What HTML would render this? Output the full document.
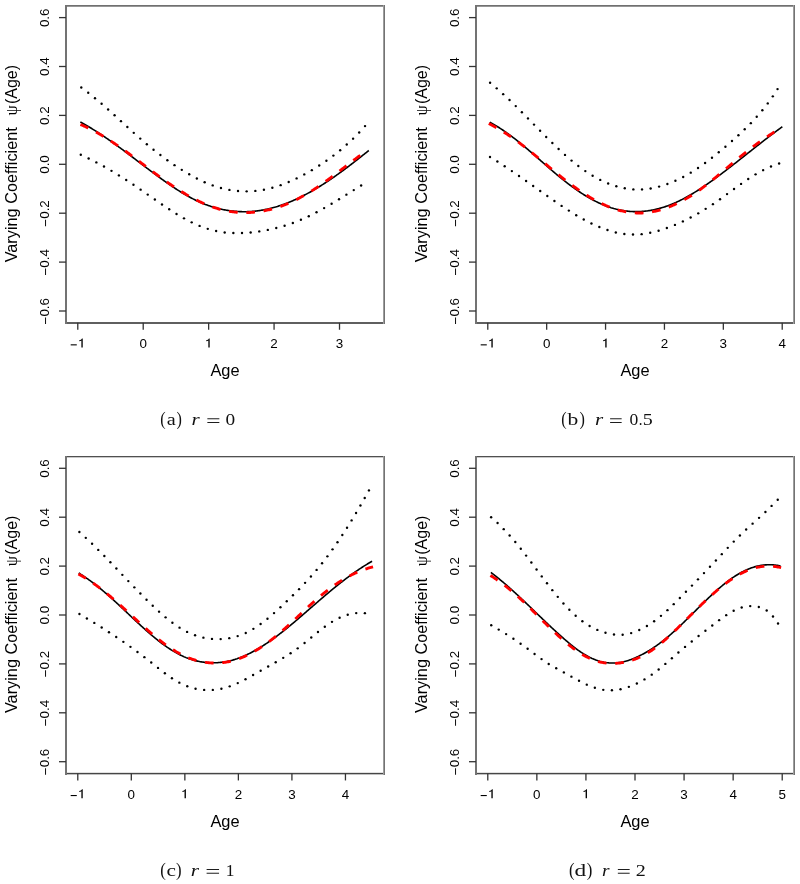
<!DOCTYPE html>
<html><head><meta charset="utf-8"><title>Varying coefficient plots</title><style>
html,body{margin:0;padding:0;background:#fff;width:800px;height:884px;overflow:hidden;}
svg{display:block;will-change:transform;}
</style></head><body>
<svg width="800" height="884" viewBox="0 0 800 884" font-family="'Liberation Sans', sans-serif">
<rect width="800" height="884" fill="#fff"/>
<rect x="65" y="5" width="320" height="1" fill="rgb(112,112,112)"/>
<rect x="65" y="6" width="320" height="1" fill="rgb(150,150,150)"/>
<rect x="65" y="322" width="320" height="1" fill="rgb(95,95,95)"/>
<rect x="65" y="323" width="320" height="1" fill="rgb(95,95,95)"/>
<rect x="65" y="5" width="1" height="319" fill="rgb(115,115,115)"/>
<rect x="66" y="5" width="1" height="319" fill="rgb(115,115,115)"/>
<rect x="383" y="5" width="1" height="319" fill="rgb(157,157,157)"/>
<rect x="384" y="5" width="1" height="319" fill="rgb(115,115,115)"/>
<line x1="59" y1="311.00" x2="66" y2="311.00" stroke="#333" stroke-width="1.3"/>
<text x="48.60" y="311.20" transform="rotate(-90 48.60 311.20)" text-anchor="middle" font-size="13.4" font-family="'Liberation Sans', sans-serif"><tspan dy="1.3">−</tspan><tspan dy="-1.3">0.6</tspan></text>
<line x1="59" y1="262.10" x2="66" y2="262.10" stroke="#333" stroke-width="1.3"/>
<text x="48.60" y="262.30" transform="rotate(-90 48.60 262.30)" text-anchor="middle" font-size="13.4" font-family="'Liberation Sans', sans-serif"><tspan dy="1.3">−</tspan><tspan dy="-1.3">0.4</tspan></text>
<line x1="59" y1="213.20" x2="66" y2="213.20" stroke="#333" stroke-width="1.3"/>
<text x="48.60" y="213.40" transform="rotate(-90 48.60 213.40)" text-anchor="middle" font-size="13.4" font-family="'Liberation Sans', sans-serif"><tspan dy="1.3">−</tspan><tspan dy="-1.3">0.2</tspan></text>
<line x1="59" y1="164.30" x2="66" y2="164.30" stroke="#333" stroke-width="1.3"/>
<text x="48.60" y="164.50" transform="rotate(-90 48.60 164.50)" text-anchor="middle" font-size="13.4" font-family="'Liberation Sans', sans-serif">0.0</text>
<line x1="59" y1="115.40" x2="66" y2="115.40" stroke="#333" stroke-width="1.3"/>
<text x="48.60" y="115.60" transform="rotate(-90 48.60 115.60)" text-anchor="middle" font-size="13.4" font-family="'Liberation Sans', sans-serif">0.2</text>
<line x1="59" y1="66.50" x2="66" y2="66.50" stroke="#333" stroke-width="1.3"/>
<text x="48.60" y="66.70" transform="rotate(-90 48.60 66.70)" text-anchor="middle" font-size="13.4" font-family="'Liberation Sans', sans-serif">0.4</text>
<line x1="59" y1="17.60" x2="66" y2="17.60" stroke="#333" stroke-width="1.3"/>
<text x="48.60" y="17.80" transform="rotate(-90 48.60 17.80)" text-anchor="middle" font-size="13.4" font-family="'Liberation Sans', sans-serif">0.6</text>
<line x1="77.78" y1="322.75" x2="77.78" y2="329.75" stroke="#333" stroke-width="1.3"/>
<path d="M81.38,347.60 L82.73,347.60 L82.73,338.50 L81.98,338.50 C81.48,339.60 80.48,340.00 79.28,340.20 L79.28,341.25 C80.08,341.15 80.78,340.90 81.38,340.55 Z" fill="#000"/>
<rect x="70.68" y="344.30" width="6.1" height="1.1" fill="#000"/>
<line x1="143.21" y1="322.75" x2="143.21" y2="329.75" stroke="#333" stroke-width="1.3"/>
<text x="143.21" y="348.30" text-anchor="middle" font-size="13.4" font-family="'Liberation Sans', sans-serif">0</text>
<line x1="208.64" y1="322.75" x2="208.64" y2="329.75" stroke="#333" stroke-width="1.3"/>
<path d="M208.34,347.60 L209.69,347.60 L209.69,338.50 L208.94,338.50 C208.44,339.60 207.44,340.00 206.24,340.20 L206.24,341.25 C207.04,341.15 207.74,340.90 208.34,340.55 Z" fill="#000"/>
<line x1="274.07" y1="322.75" x2="274.07" y2="329.75" stroke="#333" stroke-width="1.3"/>
<text x="274.07" y="348.30" text-anchor="middle" font-size="13.4" font-family="'Liberation Sans', sans-serif">2</text>
<line x1="339.51" y1="322.75" x2="339.51" y2="329.75" stroke="#333" stroke-width="1.3"/>
<text x="339.51" y="348.30" text-anchor="middle" font-size="13.4" font-family="'Liberation Sans', sans-serif">3</text>
<text x="225.00" y="375.80" text-anchor="middle" font-size="16.4" font-family="'Liberation Sans', sans-serif">Age</text>
<text x="17.20" y="262.32" transform="rotate(-90 17.20 262.32)" font-size="16.3" font-family="'Liberation Sans', sans-serif">Varying Coefficient</text>
<text x="17.20" y="115.46" transform="rotate(-90 17.20 115.46)" font-size="16.2" font-family="'Liberation Serif', serif">ψ</text>
<text x="17.20" y="104.04" transform="rotate(-90 17.20 104.04)" font-size="16.0" font-family="'Liberation Sans', sans-serif">(Age)</text>
<circle cx="81.29" cy="87.57" r="1.2"/>
<circle cx="88.22" cy="92.77" r="1.2"/>
<circle cx="94.99" cy="98.19" r="1.2"/>
<circle cx="101.62" cy="103.78" r="1.2"/>
<circle cx="108.14" cy="109.50" r="1.2"/>
<circle cx="114.57" cy="115.30" r="1.2"/>
<circle cx="120.97" cy="121.16" r="1.2"/>
<circle cx="127.36" cy="127.02" r="1.2"/>
<circle cx="133.77" cy="132.85" r="1.2"/>
<circle cx="140.25" cy="138.61" r="1.2"/>
<circle cx="146.83" cy="144.26" r="1.2"/>
<circle cx="153.54" cy="149.75" r="1.2"/>
<circle cx="160.39" cy="155.07" r="1.2"/>
<circle cx="167.37" cy="160.20" r="1.2"/>
<circle cx="174.51" cy="165.13" r="1.2"/>
<circle cx="181.79" cy="169.83" r="1.2"/>
<circle cx="189.22" cy="174.29" r="1.2"/>
<circle cx="196.84" cy="178.44" r="1.2"/>
<circle cx="204.66" cy="182.18" r="1.2"/>
<circle cx="212.70" cy="185.41" r="1.2"/>
<circle cx="220.96" cy="188.03" r="1.2"/>
<circle cx="229.42" cy="189.91" r="1.2"/>
<circle cx="238.02" cy="191.02" r="1.2"/>
<circle cx="246.68" cy="191.36" r="1.2"/>
<circle cx="255.34" cy="190.92" r="1.2"/>
<circle cx="263.92" cy="189.71" r="1.2"/>
<circle cx="272.36" cy="187.76" r="1.2"/>
<circle cx="280.63" cy="185.15" r="1.2"/>
<circle cx="288.70" cy="181.99" r="1.2"/>
<circle cx="296.59" cy="178.39" r="1.2"/>
<circle cx="304.29" cy="174.41" r="1.2"/>
<circle cx="311.83" cy="170.14" r="1.2"/>
<circle cx="319.20" cy="165.57" r="1.2"/>
<circle cx="326.39" cy="160.73" r="1.2"/>
<circle cx="333.39" cy="155.61" r="1.2"/>
<circle cx="340.18" cy="150.21" r="1.2"/>
<circle cx="346.75" cy="144.56" r="1.2"/>
<circle cx="353.09" cy="138.64" r="1.2"/>
<circle cx="359.19" cy="132.48" r="1.2"/>
<circle cx="365.03" cy="126.08" r="1.2"/>
<circle cx="80.80" cy="154.75" r="1.2"/>
<circle cx="88.65" cy="158.45" r="1.2"/>
<circle cx="96.37" cy="162.39" r="1.2"/>
<circle cx="103.99" cy="166.53" r="1.2"/>
<circle cx="111.49" cy="170.87" r="1.2"/>
<circle cx="118.90" cy="175.38" r="1.2"/>
<circle cx="126.21" cy="180.03" r="1.2"/>
<circle cx="133.45" cy="184.80" r="1.2"/>
<circle cx="140.63" cy="189.67" r="1.2"/>
<circle cx="147.76" cy="194.60" r="1.2"/>
<circle cx="154.87" cy="199.56" r="1.2"/>
<circle cx="162.00" cy="204.49" r="1.2"/>
<circle cx="169.20" cy="209.32" r="1.2"/>
<circle cx="176.52" cy="213.97" r="1.2"/>
<circle cx="184.00" cy="218.35" r="1.2"/>
<circle cx="191.69" cy="222.36" r="1.2"/>
<circle cx="199.60" cy="225.89" r="1.2"/>
<circle cx="207.76" cy="228.83" r="1.2"/>
<circle cx="216.14" cy="231.03" r="1.2"/>
<circle cx="224.69" cy="232.43" r="1.2"/>
<circle cx="233.34" cy="233.06" r="1.2"/>
<circle cx="242.01" cy="233.03" r="1.2"/>
<circle cx="250.65" cy="232.44" r="1.2"/>
<circle cx="259.26" cy="231.38" r="1.2"/>
<circle cx="267.80" cy="229.90" r="1.2"/>
<circle cx="276.26" cy="228.02" r="1.2"/>
<circle cx="284.62" cy="225.71" r="1.2"/>
<circle cx="292.84" cy="222.97" r="1.2"/>
<circle cx="300.90" cy="219.77" r="1.2"/>
<circle cx="308.79" cy="216.18" r="1.2"/>
<circle cx="316.53" cy="212.27" r="1.2"/>
<circle cx="324.13" cy="208.09" r="1.2"/>
<circle cx="331.61" cy="203.73" r="1.2"/>
<circle cx="339.03" cy="199.23" r="1.2"/>
<circle cx="346.39" cy="194.66" r="1.2"/>
<circle cx="353.75" cy="190.08" r="1.2"/>
<circle cx="361.14" cy="185.54" r="1.2"/>
<path d="M80.36,121.99 L81.25,122.47 L82.13,122.96 L83.01,123.45 L83.89,123.95 L84.77,124.45 L85.64,124.95 L86.51,125.45 L87.38,125.96 L88.25,126.47 L89.11,126.98 L89.97,127.50 L90.83,128.01 L91.68,128.54 L92.54,129.06 L93.39,129.59 L94.24,130.12 L95.09,130.65 L95.93,131.18 L96.78,131.72 L97.62,132.26 L98.46,132.80 L99.30,133.35 L100.13,133.89 L100.97,134.44 L101.80,135.00 L102.63,135.55 L103.46,136.11 L104.28,136.66 L105.11,137.22 L105.93,137.79 L106.76,138.35 L107.58,138.92 L108.40,139.48 L109.21,140.05 L110.03,140.63 L110.84,141.20 L111.66,141.77 L112.47,142.35 L113.28,142.93 L114.09,143.51 L114.90,144.09 L115.71,144.67 L116.52,145.26 L117.32,145.84 L118.13,146.43 L118.93,147.02 L119.73,147.61 L120.53,148.20 L121.34,148.79 L122.14,149.38 L122.94,149.97 L123.74,150.57 L124.53,151.17 L125.33,151.76 L126.13,152.36 L126.93,152.96 L127.72,153.56 L128.52,154.16 L129.31,154.76 L130.11,155.36 L130.90,155.96 L131.70,156.56 L132.49,157.16 L133.28,157.76 L134.08,158.37 L134.87,158.97 L135.67,159.57 L136.46,160.18 L137.25,160.78 L138.05,161.39 L138.84,161.99 L139.63,162.59 L140.43,163.20 L141.22,163.80 L142.02,164.41 L142.81,165.01 L143.61,165.61 L144.40,166.22 L145.20,166.82 L145.99,167.42 L146.79,168.02 L147.59,168.63 L148.38,169.23 L149.18,169.83 L149.98,170.43 L150.78,171.03 L151.58,171.63 L152.38,172.23 L153.19,172.82 L153.99,173.42 L154.79,174.01 L155.60,174.61 L156.40,175.20 L157.21,175.80 L158.02,176.39 L158.83,176.98 L159.64,177.57 L160.45,178.16 L161.26,178.74 L162.07,179.33 L162.89,179.91 L163.71,180.50 L164.52,181.08 L165.34,181.66 L166.16,182.24 L166.99,182.81 L167.81,183.39 L168.63,183.96 L169.46,184.53 L170.29,185.10 L171.12,185.67 L171.95,186.23 L172.79,186.79 L173.62,187.35 L174.46,187.91 L175.30,188.46 L176.14,189.01 L176.99,189.56 L177.83,190.10 L178.68,190.64 L179.53,191.17 L180.38,191.70 L181.24,192.23 L182.09,192.75 L182.95,193.27 L183.82,193.79 L184.68,194.30 L185.55,194.80 L186.41,195.30 L187.29,195.80 L188.16,196.29 L189.04,196.77 L189.92,197.25 L190.80,197.72 L191.68,198.19 L192.57,198.65 L193.46,199.11 L194.36,199.56 L195.25,200.00 L196.15,200.43 L197.05,200.86 L197.96,201.29 L198.87,201.70 L199.78,202.11 L200.70,202.51 L201.61,202.91 L202.54,203.29 L203.46,203.67 L204.39,204.04 L205.32,204.41 L206.26,204.76 L207.19,205.11 L208.14,205.45 L209.08,205.78 L210.03,206.10 L210.98,206.41 L211.94,206.72 L212.90,207.01 L213.86,207.30 L214.83,207.58 L215.79,207.85 L216.76,208.11 L217.74,208.36 L218.71,208.60 L219.69,208.83 L220.67,209.06 L221.65,209.28 L222.63,209.48 L223.62,209.68 L224.60,209.87 L225.59,210.05 L226.58,210.22 L227.57,210.38 L228.56,210.54 L229.56,210.68 L230.55,210.81 L231.54,210.94 L232.54,211.05 L233.53,211.16 L234.53,211.26 L235.53,211.34 L236.52,211.42 L237.52,211.49 L238.51,211.55 L239.51,211.60 L240.50,211.64 L241.50,211.67 L242.49,211.69 L243.48,211.70 L244.48,211.71 L245.47,211.70 L246.46,211.68 L247.45,211.65 L248.43,211.62 L249.42,211.57 L250.40,211.51 L251.39,211.45 L252.37,211.37 L253.35,211.29 L254.33,211.20 L255.31,211.09 L256.29,210.98 L257.26,210.86 L258.23,210.73 L259.21,210.60 L260.18,210.45 L261.15,210.29 L262.12,210.13 L263.08,209.96 L264.05,209.78 L265.01,209.59 L265.98,209.39 L266.94,209.19 L267.90,208.98 L268.86,208.76 L269.82,208.53 L270.77,208.29 L271.72,208.05 L272.68,207.80 L273.63,207.54 L274.58,207.27 L275.53,207.00 L276.47,206.71 L277.42,206.43 L278.36,206.13 L279.30,205.83 L280.25,205.52 L281.18,205.20 L282.12,204.88 L283.06,204.55 L283.99,204.21 L284.92,203.87 L285.86,203.52 L286.79,203.16 L287.71,202.80 L288.64,202.43 L289.56,202.06 L290.49,201.68 L291.41,201.29 L292.33,200.90 L293.25,200.50 L294.16,200.10 L295.08,199.69 L295.99,199.27 L296.90,198.85 L297.81,198.42 L298.72,197.99 L299.63,197.56 L300.53,197.11 L301.43,196.67 L302.33,196.21 L303.23,195.76 L304.13,195.30 L305.03,194.83 L305.92,194.36 L306.81,193.88 L307.70,193.40 L308.59,192.92 L309.48,192.43 L310.36,191.94 L311.25,191.44 L312.13,190.94 L313.01,190.43 L313.89,189.92 L314.76,189.41 L315.64,188.89 L316.51,188.37 L317.38,187.85 L318.25,187.32 L319.11,186.79 L319.98,186.25 L320.84,185.71 L321.70,185.17 L322.56,184.63 L323.42,184.08 L324.27,183.53 L325.12,182.98 L325.98,182.42 L326.82,181.86 L327.67,181.30 L328.52,180.74 L329.36,180.17 L330.20,179.60 L331.04,179.03 L331.88,178.46 L332.71,177.88 L333.54,177.30 L334.38,176.72 L335.20,176.14 L336.03,175.56 L336.86,174.97 L337.68,174.39 L338.50,173.80 L339.32,173.21 L340.13,172.62 L340.95,172.02 L341.76,171.43 L342.57,170.84 L343.38,170.24 L344.18,169.64 L344.99,169.05 L345.79,168.45 L346.59,167.85 L347.39,167.25 L348.18,166.65 L348.97,166.04 L349.76,165.44 L350.55,164.84 L351.34,164.24 L352.12,163.64 L352.91,163.03 L353.68,162.43 L354.46,161.83 L355.24,161.23 L356.01,160.62 L356.78,160.02 L357.55,159.42 L358.31,158.82 L359.08,158.22 L359.84,157.62 L360.60,157.02 L361.35,156.42 L362.11,155.82 L362.86,155.23 L363.61,154.63 L364.36,154.04 L365.10,153.44 L365.85,152.85 L366.59,152.26 L367.32,151.67 L368.06,151.08 L368.79,150.50" fill="none" stroke="#000" stroke-width="1.6"/>
<path d="M80.42,124.44 L81.37,124.86 L82.32,125.28 L83.26,125.70 L84.19,126.13 L85.12,126.57 L86.05,127.01 L86.97,127.45 L87.89,127.89 L88.80,128.35 L89.71,128.80 L90.62,129.26 L91.52,129.72 L92.41,130.19 L93.31,130.66 L94.20,131.13 L95.08,131.61 L95.96,132.09 L96.84,132.58 L97.71,133.07 L98.59,133.56 L99.45,134.06 L100.32,134.56 L101.18,135.06 L102.04,135.57 L102.89,136.08 L103.74,136.59 L104.59,137.10 L105.44,137.62 L106.28,138.14 L107.12,138.67 L107.96,139.20 L108.79,139.73 L109.63,140.26 L110.46,140.80 L111.28,141.34 L112.11,141.88 L112.93,142.42 L113.75,142.97 L114.57,143.52 L115.39,144.07 L116.20,144.63 L117.02,145.18 L117.83,145.74 L118.64,146.30 L119.44,146.86 L120.25,147.43 L121.06,148.00 L121.86,148.57 L122.66,149.14 L123.46,149.71 L124.26,150.29 L125.06,150.86 L125.86,151.44 L126.65,152.02 L127.45,152.60 L128.24,153.19 L129.04,153.77 L129.83,154.36 L130.62,154.94 L131.42,155.53 L132.21,156.12 L133.00,156.71 L133.79,157.31 L134.58,157.90 L135.37,158.49 L136.16,159.09 L136.95,159.69 L137.74,160.28 L138.53,160.88 L139.32,161.48 L140.11,162.08 L140.90,162.68 L141.69,163.28 L142.49,163.89 L143.28,164.49 L144.07,165.09 L144.86,165.69 L145.66,166.30 L146.45,166.90 L147.25,167.50 L148.05,168.11 L148.85,168.71 L149.64,169.32 L150.45,169.92 L151.25,170.53 L152.05,171.13 L152.86,171.73 L153.66,172.34 L154.47,172.94 L155.28,173.54 L156.09,174.15 L156.90,174.75 L157.72,175.35 L158.53,175.95 L159.35,176.55 L160.17,177.15 L160.99,177.75 L161.81,178.35 L162.64,178.94 L163.47,179.54 L164.30,180.13 L165.13,180.72 L165.96,181.31 L166.79,181.90 L167.63,182.48 L168.46,183.07 L169.30,183.65 L170.14,184.23 L170.99,184.80 L171.83,185.38 L172.68,185.95 L173.53,186.52 L174.38,187.08 L175.23,187.65 L176.08,188.21 L176.94,188.76 L177.79,189.31 L178.65,189.86 L179.51,190.41 L180.38,190.95 L181.24,191.49 L182.11,192.02 L182.97,192.55 L183.84,193.08 L184.72,193.60 L185.59,194.12 L186.46,194.63 L187.34,195.14 L188.22,195.64 L189.10,196.14 L189.98,196.63 L190.87,197.12 L191.75,197.60 L192.64,198.08 L193.53,198.55 L194.42,199.01 L195.32,199.47 L196.21,199.93 L197.11,200.38 L198.01,200.82 L198.91,201.25 L199.81,201.68 L200.72,202.11 L201.62,202.52 L202.53,202.93 L203.44,203.34 L204.35,203.73 L205.27,204.12 L206.18,204.50 L207.10,204.88 L208.02,205.24 L208.94,205.60 L209.86,205.96 L210.79,206.30 L211.72,206.64 L212.64,206.97 L213.58,207.29 L214.51,207.60 L215.44,207.90 L216.38,208.20 L217.32,208.48 L218.26,208.76 L219.20,209.03 L220.14,209.29 L221.09,209.54 L222.04,209.79 L222.99,210.02 L223.94,210.24 L224.89,210.46 L225.85,210.66 L226.80,210.86 L227.76,211.04 L228.72,211.22 L229.69,211.38 L230.65,211.54 L231.62,211.68 L232.59,211.81 L233.56,211.94 L234.53,212.05 L235.51,212.15 L236.48,212.24 L237.46,212.33 L238.44,212.40 L239.42,212.46 L240.40,212.51 L241.38,212.55 L242.37,212.58 L243.35,212.60 L244.34,212.61 L245.32,212.61 L246.31,212.60 L247.30,212.58 L248.29,212.55 L249.28,212.51 L250.27,212.46 L251.26,212.40 L252.25,212.33 L253.24,212.25 L254.23,212.16 L255.21,212.07 L256.20,211.96 L257.19,211.84 L258.18,211.72 L259.17,211.58 L260.16,211.44 L261.14,211.29 L262.13,211.12 L263.11,210.95 L264.10,210.77 L265.08,210.58 L266.06,210.38 L267.04,210.18 L268.02,209.96 L269.00,209.74 L269.97,209.50 L270.95,209.26 L271.92,209.01 L272.89,208.75 L273.86,208.48 L274.83,208.21 L275.79,207.92 L276.75,207.63 L277.71,207.33 L278.67,207.02 L279.62,206.70 L280.58,206.38 L281.53,206.04 L282.47,205.70 L283.42,205.35 L284.36,205.00 L285.29,204.63 L286.23,204.26 L287.16,203.88 L288.09,203.49 L289.01,203.09 L289.93,202.69 L290.85,202.28 L291.77,201.86 L292.68,201.44 L293.59,201.01 L294.50,200.57 L295.40,200.13 L296.31,199.68 L297.20,199.22 L298.10,198.76 L298.99,198.29 L299.88,197.82 L300.77,197.34 L301.65,196.85 L302.54,196.36 L303.41,195.87 L304.29,195.37 L305.16,194.86 L306.03,194.35 L306.90,193.84 L307.77,193.32 L308.63,192.80 L309.49,192.27 L310.35,191.74 L311.20,191.20 L312.06,190.66 L312.91,190.12 L313.75,189.57 L314.60,189.02 L315.44,188.47 L316.28,187.91 L317.12,187.35 L317.95,186.78 L318.79,186.22 L319.62,185.65 L320.45,185.08 L321.27,184.50 L322.10,183.93 L322.92,183.35 L323.74,182.77 L324.56,182.18 L325.38,181.60 L326.19,181.01 L327.01,180.42 L327.82,179.83 L328.63,179.23 L329.44,178.64 L330.24,178.04 L331.05,177.44 L331.85,176.85 L332.66,176.25 L333.46,175.64 L334.26,175.04 L335.06,174.44 L335.86,173.84 L336.65,173.23 L337.45,172.63 L338.25,172.02 L339.04,171.41 L339.83,170.81 L340.63,170.20 L341.42,169.59 L342.21,168.99 L343.00,168.38 L343.79,167.77 L344.58,167.17 L345.37,166.56 L346.16,165.96 L346.95,165.35 L347.74,164.75 L348.53,164.15 L349.32,163.54 L350.11,162.94 L350.89,162.34 L351.68,161.74 L352.47,161.15 L353.26,160.55 L354.05,159.96 L354.84,159.36 L355.63,158.77 L356.42,158.18 L357.21,157.59 L358.00,157.01 L358.79,156.43 L359.58,155.84 L360.38,155.27 L361.17,154.69 L361.96,154.11" fill="none" stroke="#f00" stroke-width="2.85" stroke-dasharray="8.67 8.67"/>
<text transform="translate(160.24,425.20) scale(0.850,1)" font-size="19.0" font-family="'Liberation Serif', serif" fill="#111">(</text>
<text transform="translate(166.84,425.20) scale(1.151,1)" font-size="17.6" font-family="'Liberation Serif', serif" fill="#111">a</text>
<text transform="translate(176.43,425.20) scale(0.850,1)" font-size="19.0" font-family="'Liberation Serif', serif" fill="#111">)</text>
<text transform="translate(191.40,425.20) scale(1.196,1)" font-size="17.6" font-family="'Liberation Serif', serif" fill="#111" font-style="italic">r</text>
<rect x="207.35" y="418.30" width="12.00" height="0.95" fill="#111"/>
<rect x="207.35" y="422.05" width="12.00" height="0.95" fill="#111"/>
<text transform="translate(225.51,425.20) scale(1.099,1)" font-size="17.6" font-family="'Liberation Serif', serif" fill="#111">0</text>
<rect x="475" y="5" width="320" height="1" fill="rgb(112,112,112)"/>
<rect x="475" y="6" width="320" height="1" fill="rgb(150,150,150)"/>
<rect x="475" y="322" width="320" height="1" fill="rgb(95,95,95)"/>
<rect x="475" y="323" width="320" height="1" fill="rgb(95,95,95)"/>
<rect x="475" y="5" width="1" height="319" fill="rgb(115,115,115)"/>
<rect x="476" y="5" width="1" height="319" fill="rgb(115,115,115)"/>
<rect x="793" y="5" width="1" height="319" fill="rgb(157,157,157)"/>
<rect x="794" y="5" width="1" height="319" fill="rgb(115,115,115)"/>
<line x1="469" y1="311.00" x2="476" y2="311.00" stroke="#333" stroke-width="1.3"/>
<text x="458.60" y="311.20" transform="rotate(-90 458.60 311.20)" text-anchor="middle" font-size="13.4" font-family="'Liberation Sans', sans-serif"><tspan dy="1.3">−</tspan><tspan dy="-1.3">0.6</tspan></text>
<line x1="469" y1="262.10" x2="476" y2="262.10" stroke="#333" stroke-width="1.3"/>
<text x="458.60" y="262.30" transform="rotate(-90 458.60 262.30)" text-anchor="middle" font-size="13.4" font-family="'Liberation Sans', sans-serif"><tspan dy="1.3">−</tspan><tspan dy="-1.3">0.4</tspan></text>
<line x1="469" y1="213.20" x2="476" y2="213.20" stroke="#333" stroke-width="1.3"/>
<text x="458.60" y="213.40" transform="rotate(-90 458.60 213.40)" text-anchor="middle" font-size="13.4" font-family="'Liberation Sans', sans-serif"><tspan dy="1.3">−</tspan><tspan dy="-1.3">0.2</tspan></text>
<line x1="469" y1="164.30" x2="476" y2="164.30" stroke="#333" stroke-width="1.3"/>
<text x="458.60" y="164.50" transform="rotate(-90 458.60 164.50)" text-anchor="middle" font-size="13.4" font-family="'Liberation Sans', sans-serif">0.0</text>
<line x1="469" y1="115.40" x2="476" y2="115.40" stroke="#333" stroke-width="1.3"/>
<text x="458.60" y="115.60" transform="rotate(-90 458.60 115.60)" text-anchor="middle" font-size="13.4" font-family="'Liberation Sans', sans-serif">0.2</text>
<line x1="469" y1="66.50" x2="476" y2="66.50" stroke="#333" stroke-width="1.3"/>
<text x="458.60" y="66.70" transform="rotate(-90 458.60 66.70)" text-anchor="middle" font-size="13.4" font-family="'Liberation Sans', sans-serif">0.4</text>
<line x1="469" y1="17.60" x2="476" y2="17.60" stroke="#333" stroke-width="1.3"/>
<text x="458.60" y="17.80" transform="rotate(-90 458.60 17.80)" text-anchor="middle" font-size="13.4" font-family="'Liberation Sans', sans-serif">0.6</text>
<line x1="487.78" y1="322.75" x2="487.78" y2="329.75" stroke="#333" stroke-width="1.3"/>
<path d="M491.38,347.60 L492.73,347.60 L492.73,338.50 L491.98,338.50 C491.48,339.60 490.48,340.00 489.28,340.20 L489.28,341.25 C490.08,341.15 490.78,340.90 491.38,340.55 Z" fill="#000"/>
<rect x="480.68" y="344.30" width="6.1" height="1.1" fill="#000"/>
<line x1="546.67" y1="322.75" x2="546.67" y2="329.75" stroke="#333" stroke-width="1.3"/>
<text x="546.67" y="348.30" text-anchor="middle" font-size="13.4" font-family="'Liberation Sans', sans-serif">0</text>
<line x1="605.56" y1="322.75" x2="605.56" y2="329.75" stroke="#333" stroke-width="1.3"/>
<path d="M605.26,347.60 L606.61,347.60 L606.61,338.50 L605.86,338.50 C605.36,339.60 604.36,340.00 603.16,340.20 L603.16,341.25 C603.96,341.15 604.66,340.90 605.26,340.55 Z" fill="#000"/>
<line x1="664.44" y1="322.75" x2="664.44" y2="329.75" stroke="#333" stroke-width="1.3"/>
<text x="664.44" y="348.30" text-anchor="middle" font-size="13.4" font-family="'Liberation Sans', sans-serif">2</text>
<line x1="723.33" y1="322.75" x2="723.33" y2="329.75" stroke="#333" stroke-width="1.3"/>
<text x="723.33" y="348.30" text-anchor="middle" font-size="13.4" font-family="'Liberation Sans', sans-serif">3</text>
<line x1="782.22" y1="322.75" x2="782.22" y2="329.75" stroke="#333" stroke-width="1.3"/>
<text x="782.22" y="348.30" text-anchor="middle" font-size="13.4" font-family="'Liberation Sans', sans-serif">4</text>
<text x="635.00" y="375.80" text-anchor="middle" font-size="16.4" font-family="'Liberation Sans', sans-serif">Age</text>
<text x="427.20" y="262.32" transform="rotate(-90 427.20 262.32)" font-size="16.3" font-family="'Liberation Sans', sans-serif">Varying Coefficient</text>
<text x="427.20" y="115.46" transform="rotate(-90 427.20 115.46)" font-size="16.2" font-family="'Liberation Serif', serif">ψ</text>
<text x="427.20" y="104.04" transform="rotate(-90 427.20 104.04)" font-size="16.0" font-family="'Liberation Sans', sans-serif">(Age)</text>
<circle cx="490.08" cy="82.78" r="1.2"/>
<circle cx="496.71" cy="88.37" r="1.2"/>
<circle cx="503.19" cy="94.13" r="1.2"/>
<circle cx="509.52" cy="100.05" r="1.2"/>
<circle cx="515.75" cy="106.08" r="1.2"/>
<circle cx="521.89" cy="112.20" r="1.2"/>
<circle cx="527.97" cy="118.38" r="1.2"/>
<circle cx="534.03" cy="124.58" r="1.2"/>
<circle cx="540.10" cy="130.78" r="1.2"/>
<circle cx="546.20" cy="136.94" r="1.2"/>
<circle cx="552.36" cy="143.03" r="1.2"/>
<circle cx="558.62" cy="149.03" r="1.2"/>
<circle cx="565.00" cy="154.90" r="1.2"/>
<circle cx="571.55" cy="160.59" r="1.2"/>
<circle cx="578.31" cy="166.01" r="1.2"/>
<circle cx="585.33" cy="171.10" r="1.2"/>
<circle cx="592.63" cy="175.77" r="1.2"/>
<circle cx="600.25" cy="179.91" r="1.2"/>
<circle cx="608.16" cy="183.46" r="1.2"/>
<circle cx="616.34" cy="186.30" r="1.2"/>
<circle cx="624.77" cy="188.32" r="1.2"/>
<circle cx="633.37" cy="189.40" r="1.2"/>
<circle cx="642.03" cy="189.42" r="1.2"/>
<circle cx="650.64" cy="188.45" r="1.2"/>
<circle cx="659.11" cy="186.60" r="1.2"/>
<circle cx="667.38" cy="184.00" r="1.2"/>
<circle cx="675.41" cy="180.75" r="1.2"/>
<circle cx="683.20" cy="176.94" r="1.2"/>
<circle cx="690.73" cy="172.65" r="1.2"/>
<circle cx="698.02" cy="167.95" r="1.2"/>
<circle cx="705.10" cy="162.94" r="1.2"/>
<circle cx="711.99" cy="157.69" r="1.2"/>
<circle cx="718.75" cy="152.26" r="1.2"/>
<circle cx="725.42" cy="146.72" r="1.2"/>
<circle cx="731.99" cy="141.06" r="1.2"/>
<circle cx="738.43" cy="135.26" r="1.2"/>
<circle cx="744.72" cy="129.29" r="1.2"/>
<circle cx="750.83" cy="123.14" r="1.2"/>
<circle cx="756.72" cy="116.78" r="1.2"/>
<circle cx="762.37" cy="110.21" r="1.2"/>
<circle cx="767.75" cy="103.40" r="1.2"/>
<circle cx="772.81" cy="96.37" r="1.2"/>
<circle cx="777.54" cy="89.10" r="1.2"/>
<circle cx="490.00" cy="157.03" r="1.2"/>
<circle cx="497.38" cy="161.57" r="1.2"/>
<circle cx="504.68" cy="166.26" r="1.2"/>
<circle cx="511.88" cy="171.08" r="1.2"/>
<circle cx="519.02" cy="176.00" r="1.2"/>
<circle cx="526.11" cy="180.99" r="1.2"/>
<circle cx="533.17" cy="186.02" r="1.2"/>
<circle cx="540.23" cy="191.05" r="1.2"/>
<circle cx="547.31" cy="196.06" r="1.2"/>
<circle cx="554.43" cy="201.01" r="1.2"/>
<circle cx="561.61" cy="205.88" r="1.2"/>
<circle cx="568.86" cy="210.62" r="1.2"/>
<circle cx="576.23" cy="215.18" r="1.2"/>
<circle cx="583.75" cy="219.50" r="1.2"/>
<circle cx="591.45" cy="223.49" r="1.2"/>
<circle cx="599.35" cy="227.05" r="1.2"/>
<circle cx="607.48" cy="230.07" r="1.2"/>
<circle cx="615.82" cy="232.43" r="1.2"/>
<circle cx="624.35" cy="233.97" r="1.2"/>
<circle cx="632.99" cy="234.56" r="1.2"/>
<circle cx="641.64" cy="234.13" r="1.2"/>
<circle cx="650.21" cy="232.78" r="1.2"/>
<circle cx="658.62" cy="230.71" r="1.2"/>
<circle cx="666.87" cy="228.04" r="1.2"/>
<circle cx="674.95" cy="224.90" r="1.2"/>
<circle cx="682.87" cy="221.38" r="1.2"/>
<circle cx="690.63" cy="217.51" r="1.2"/>
<circle cx="698.23" cy="213.33" r="1.2"/>
<circle cx="705.66" cy="208.87" r="1.2"/>
<circle cx="712.92" cy="204.14" r="1.2"/>
<circle cx="720.04" cy="199.18" r="1.2"/>
<circle cx="727.05" cy="194.08" r="1.2"/>
<circle cx="734.04" cy="188.95" r="1.2"/>
<circle cx="741.07" cy="183.89" r="1.2"/>
<circle cx="748.23" cy="178.99" r="1.2"/>
<circle cx="755.57" cy="174.37" r="1.2"/>
<circle cx="763.14" cy="170.16" r="1.2"/>
<circle cx="770.99" cy="166.49" r="1.2"/>
<circle cx="779.12" cy="163.47" r="1.2"/>
<path d="M489.78,122.13 L490.67,122.62 L491.55,123.11 L492.42,123.61 L493.29,124.11 L494.16,124.62 L495.02,125.13 L495.88,125.65 L496.74,126.18 L497.59,126.70 L498.44,127.24 L499.28,127.77 L500.12,128.32 L500.96,128.86 L501.79,129.41 L502.62,129.97 L503.45,130.53 L504.27,131.09 L505.09,131.66 L505.91,132.23 L506.73,132.80 L507.54,133.38 L508.35,133.96 L509.16,134.55 L509.96,135.14 L510.76,135.73 L511.56,136.33 L512.36,136.93 L513.15,137.53 L513.94,138.13 L514.73,138.74 L515.52,139.35 L516.30,139.97 L517.08,140.59 L517.86,141.21 L518.64,141.83 L519.42,142.45 L520.19,143.08 L520.97,143.71 L521.74,144.34 L522.51,144.98 L523.28,145.61 L524.04,146.25 L524.81,146.89 L525.57,147.53 L526.33,148.18 L527.09,148.82 L527.85,149.47 L528.61,150.12 L529.37,150.77 L530.13,151.42 L530.88,152.07 L531.64,152.72 L532.39,153.38 L533.15,154.03 L533.90,154.69 L534.65,155.35 L535.41,156.01 L536.16,156.66 L536.91,157.32 L537.66,157.98 L538.41,158.64 L539.16,159.30 L539.91,159.96 L540.66,160.62 L541.41,161.29 L542.17,161.95 L542.92,162.61 L543.67,163.27 L544.42,163.93 L545.17,164.59 L545.92,165.25 L546.68,165.90 L547.43,166.56 L548.18,167.22 L548.94,167.88 L549.70,168.53 L550.45,169.19 L551.21,169.84 L551.97,170.49 L552.73,171.15 L553.49,171.80 L554.25,172.44 L555.01,173.09 L555.78,173.74 L556.54,174.38 L557.31,175.02 L558.08,175.66 L558.85,176.30 L559.62,176.94 L560.40,177.57 L561.17,178.21 L561.95,178.84 L562.73,179.46 L563.51,180.09 L564.29,180.71 L565.08,181.33 L565.87,181.95 L566.66,182.57 L567.45,183.18 L568.25,183.79 L569.04,184.39 L569.84,185.00 L570.65,185.60 L571.45,186.19 L572.26,186.79 L573.07,187.38 L573.88,187.96 L574.70,188.55 L575.52,189.13 L576.34,189.70 L577.17,190.27 L578.00,190.84 L578.83,191.41 L579.67,191.97 L580.51,192.52 L581.35,193.07 L582.19,193.62 L583.04,194.16 L583.90,194.70 L584.75,195.23 L585.61,195.76 L586.48,196.28 L587.34,196.80 L588.21,197.31 L589.08,197.81 L589.96,198.31 L590.84,198.80 L591.72,199.29 L592.61,199.77 L593.49,200.24 L594.39,200.70 L595.28,201.16 L596.18,201.61 L597.08,202.05 L597.98,202.49 L598.89,202.92 L599.80,203.34 L600.71,203.75 L601.63,204.15 L602.55,204.54 L603.47,204.93 L604.39,205.30 L605.32,205.67 L606.25,206.03 L607.18,206.38 L608.12,206.71 L609.06,207.04 L610.00,207.36 L610.94,207.67 L611.89,207.96 L612.84,208.25 L613.79,208.53 L614.75,208.79 L615.70,209.05 L616.66,209.29 L617.63,209.52 L618.59,209.74 L619.56,209.95 L620.53,210.14 L621.50,210.32 L622.48,210.50 L623.45,210.65 L624.43,210.80 L625.41,210.94 L626.40,211.06 L627.38,211.17 L628.36,211.27 L629.35,211.35 L630.34,211.43 L631.33,211.49 L632.32,211.54 L633.31,211.58 L634.30,211.61 L635.29,211.63 L636.28,211.63 L637.27,211.63 L638.26,211.61 L639.25,211.58 L640.23,211.54 L641.22,211.49 L642.21,211.42 L643.20,211.35 L644.18,211.26 L645.16,211.16 L646.15,211.05 L647.13,210.93 L648.10,210.80 L649.08,210.66 L650.06,210.50 L651.03,210.34 L652.00,210.16 L652.96,209.97 L653.93,209.78 L654.89,209.57 L655.85,209.35 L656.81,209.12 L657.76,208.88 L658.72,208.64 L659.67,208.38 L660.62,208.11 L661.56,207.83 L662.51,207.54 L663.45,207.25 L664.39,206.94 L665.33,206.63 L666.26,206.31 L667.19,205.97 L668.12,205.63 L669.05,205.29 L669.98,204.93 L670.90,204.56 L671.82,204.19 L672.74,203.81 L673.66,203.42 L674.57,203.03 L675.48,202.62 L676.39,202.21 L677.30,201.79 L678.21,201.37 L679.11,200.94 L680.01,200.50 L680.91,200.05 L681.81,199.60 L682.70,199.14 L683.60,198.68 L684.49,198.21 L685.37,197.73 L686.26,197.25 L687.14,196.77 L688.03,196.27 L688.90,195.77 L689.78,195.27 L690.66,194.76 L691.53,194.25 L692.40,193.73 L693.27,193.21 L694.14,192.68 L695.00,192.15 L695.86,191.61 L696.72,191.08 L697.58,190.53 L698.44,189.98 L699.29,189.43 L700.14,188.88 L700.99,188.32 L701.84,187.76 L702.69,187.19 L703.53,186.63 L704.37,186.06 L705.21,185.48 L706.05,184.91 L706.88,184.33 L707.71,183.75 L708.55,183.17 L709.37,182.59 L710.20,182.00 L711.03,181.41 L711.85,180.82 L712.67,180.23 L713.49,179.64 L714.31,179.05 L715.12,178.45 L715.93,177.86 L716.74,177.26 L717.55,176.67 L718.36,176.07 L719.16,175.47 L719.97,174.87 L720.77,174.27 L721.57,173.67 L722.37,173.07 L723.16,172.47 L723.96,171.87 L724.75,171.27 L725.55,170.66 L726.34,170.06 L727.13,169.46 L727.92,168.85 L728.70,168.24 L729.49,167.64 L730.27,167.03 L731.06,166.42 L731.84,165.82 L732.62,165.21 L733.41,164.60 L734.19,163.99 L734.97,163.38 L735.75,162.77 L736.52,162.16 L737.30,161.55 L738.08,160.94 L738.86,160.33 L739.63,159.72 L740.41,159.10 L741.18,158.49 L741.96,157.88 L742.73,157.27 L743.51,156.65 L744.28,156.04 L745.06,155.43 L745.83,154.81 L746.61,154.20 L747.38,153.59 L748.16,152.97 L748.93,152.36 L749.71,151.75 L750.48,151.13 L751.26,150.52 L752.03,149.90 L752.81,149.29 L753.59,148.68 L754.37,148.06 L755.14,147.45 L755.92,146.84 L756.70,146.22 L757.48,145.61 L758.26,145.00 L759.05,144.38 L759.83,143.77 L760.61,143.16 L761.40,142.54 L762.18,141.93 L762.97,141.32 L763.76,140.71 L764.55,140.10 L765.34,139.49 L766.13,138.87 L766.92,138.26 L767.72,137.65 L768.51,137.04 L769.31,136.43 L770.11,135.83 L770.91,135.22 L771.71,134.61 L772.52,134.00 L773.33,133.39 L774.13,132.79 L774.94,132.18 L775.75,131.58 L776.57,130.97 L777.38,130.37 L778.20,129.76 L779.02,129.16 L779.85,128.56 L780.67,127.96 L781.50,127.35 L782.33,126.75" fill="none" stroke="#000" stroke-width="1.6"/>
<path d="M488.79,123.50 L489.72,123.98 L490.65,124.47 L491.57,124.96 L492.49,125.45 L493.40,125.95 L494.31,126.45 L495.21,126.96 L496.11,127.47 L497.00,127.98 L497.89,128.50 L498.77,129.02 L499.65,129.54 L500.52,130.06 L501.39,130.59 L502.25,131.13 L503.11,131.66 L503.96,132.20 L504.81,132.74 L505.66,133.29 L506.50,133.84 L507.34,134.39 L508.17,134.94 L509.00,135.50 L509.83,136.06 L510.65,136.62 L511.47,137.19 L512.29,137.76 L513.10,138.33 L513.91,138.90 L514.71,139.47 L515.52,140.05 L516.32,140.63 L517.12,141.21 L517.91,141.80 L518.70,142.39 L519.49,142.98 L520.28,143.57 L521.07,144.16 L521.85,144.76 L522.63,145.35 L523.41,145.95 L524.18,146.55 L524.96,147.16 L525.73,147.76 L526.50,148.37 L527.27,148.98 L528.04,149.59 L528.80,150.20 L529.57,150.81 L530.33,151.42 L531.09,152.04 L531.86,152.66 L532.62,153.28 L533.38,153.90 L534.13,154.52 L534.89,155.14 L535.65,155.76 L536.41,156.39 L537.16,157.01 L537.92,157.64 L538.68,158.27 L539.43,158.89 L540.19,159.52 L540.94,160.15 L541.70,160.78 L542.45,161.41 L543.21,162.05 L543.97,162.68 L544.73,163.31 L545.48,163.94 L546.24,164.58 L547.00,165.21 L547.76,165.85 L548.52,166.48 L549.29,167.12 L550.05,167.75 L550.81,168.39 L551.58,169.02 L552.35,169.66 L553.12,170.29 L553.89,170.93 L554.66,171.56 L555.43,172.19 L556.21,172.83 L556.99,173.46 L557.77,174.10 L558.55,174.73 L559.34,175.36 L560.12,176.00 L560.91,176.63 L561.70,177.26 L562.50,177.89 L563.30,178.52 L564.10,179.15 L564.90,179.78 L565.71,180.40 L566.51,181.03 L567.32,181.65 L568.14,182.27 L568.95,182.89 L569.77,183.51 L570.60,184.13 L571.42,184.74 L572.25,185.36 L573.07,185.97 L573.91,186.57 L574.74,187.18 L575.58,187.78 L576.42,188.37 L577.26,188.97 L578.10,189.56 L578.95,190.15 L579.80,190.73 L580.65,191.31 L581.50,191.88 L582.36,192.45 L583.22,193.02 L584.08,193.58 L584.94,194.14 L585.80,194.69 L586.67,195.24 L587.54,195.78 L588.41,196.32 L589.29,196.85 L590.16,197.38 L591.04,197.90 L591.92,198.41 L592.80,198.92 L593.69,199.42 L594.58,199.91 L595.46,200.40 L596.36,200.88 L597.25,201.36 L598.14,201.83 L599.04,202.29 L599.94,202.74 L600.84,203.18 L601.74,203.62 L602.65,204.05 L603.55,204.47 L604.46,204.89 L605.37,205.29 L606.29,205.69 L607.20,206.08 L608.12,206.46 L609.03,206.83 L609.95,207.19 L610.87,207.54 L611.80,207.88 L612.72,208.22 L613.65,208.54 L614.58,208.86 L615.51,209.16 L616.44,209.45 L617.37,209.74 L618.31,210.01 L619.24,210.27 L620.18,210.52 L621.12,210.76 L622.06,210.99 L623.01,211.21 L623.95,211.42 L624.90,211.61 L625.84,211.80 L626.79,211.97 L627.74,212.13 L628.69,212.27 L629.65,212.41 L630.60,212.53 L631.56,212.64 L632.51,212.74 L633.47,212.82 L634.43,212.89 L635.39,212.95 L636.36,212.99 L637.32,213.02 L638.29,213.04 L639.25,213.04 L640.22,213.03 L641.19,213.01 L642.16,212.97 L643.13,212.92 L644.10,212.85 L645.07,212.77 L646.04,212.67 L647.02,212.57 L647.99,212.45 L648.97,212.31 L649.94,212.17 L650.91,212.01 L651.89,211.84 L652.86,211.66 L653.83,211.46 L654.81,211.26 L655.78,211.04 L656.75,210.81 L657.72,210.57 L658.69,210.31 L659.66,210.05 L660.63,209.78 L661.59,209.49 L662.56,209.20 L663.52,208.89 L664.48,208.58 L665.44,208.25 L666.40,207.91 L667.35,207.57 L668.31,207.21 L669.26,206.85 L670.21,206.47 L671.15,206.09 L672.10,205.70 L673.04,205.30 L673.98,204.89 L674.91,204.47 L675.84,204.05 L676.77,203.62 L677.70,203.18 L678.62,202.73 L679.54,202.27 L680.45,201.81 L681.36,201.34 L682.27,200.86 L683.17,200.37 L684.07,199.88 L684.96,199.38 L685.85,198.88 L686.74,198.37 L687.62,197.85 L688.49,197.33 L689.36,196.80 L690.23,196.27 L691.09,195.73 L691.94,195.19 L692.79,194.64 L693.64,194.08 L694.48,193.52 L695.32,192.96 L696.15,192.39 L696.98,191.82 L697.80,191.24 L698.63,190.66 L699.44,190.08 L700.26,189.49 L701.07,188.89 L701.87,188.30 L702.68,187.70 L703.48,187.10 L704.27,186.49 L705.07,185.88 L705.86,185.27 L706.65,184.66 L707.44,184.04 L708.22,183.42 L709.00,182.80 L709.78,182.17 L710.56,181.55 L711.34,180.92 L712.11,180.29 L712.88,179.66 L713.65,179.03 L714.42,178.39 L715.19,177.76 L715.96,177.12 L716.73,176.49 L717.49,175.85 L718.26,175.21 L719.02,174.57 L719.78,173.93 L720.55,173.29 L721.31,172.65 L722.07,172.01 L722.83,171.37 L723.60,170.73 L724.36,170.09 L725.12,169.45 L725.88,168.81 L726.64,168.16 L727.40,167.52 L728.16,166.88 L728.92,166.24 L729.68,165.60 L730.44,164.96 L731.21,164.32 L731.97,163.68 L732.73,163.04 L733.49,162.41 L734.26,161.77 L735.02,161.13 L735.78,160.50 L736.55,159.86 L737.31,159.23 L738.08,158.59 L738.85,157.96 L739.62,157.33 L740.39,156.70 L741.16,156.07 L741.93,155.44 L742.70,154.82 L743.47,154.19 L744.25,153.57 L745.03,152.95 L745.80,152.33 L746.58,151.71 L747.36,151.09 L748.15,150.48 L748.93,149.86 L749.72,149.25 L750.50,148.64 L751.29,148.03 L752.08,147.43 L752.88,146.82 L753.67,146.22 L754.47,145.62 L755.27,145.02 L756.07,144.43 L756.87,143.84 L757.68,143.25 L758.49,142.66 L759.30,142.07 L760.11,141.49 L760.93,140.91 L761.74,140.33 L762.56,139.76 L763.39,139.19 L764.21,138.62 L765.04,138.05 L765.87,137.49 L766.71,136.93 L767.55,136.38 L768.39,135.82 L769.23,135.27 L770.08,134.73 L770.93,134.19 L771.78,133.65 L772.64,133.11 L773.50,132.58 L774.36,132.05 L775.23,131.52 L776.10,131.00" fill="none" stroke="#f00" stroke-width="2.85" stroke-dasharray="8.67 8.67"/>
<text transform="translate(561.24,425.20) scale(0.850,1)" font-size="19.0" font-family="'Liberation Serif', serif" fill="#111">(</text>
<text transform="translate(567.60,425.20) scale(1.224,1)" font-size="17.6" font-family="'Liberation Serif', serif" fill="#111">b</text>
<text transform="translate(579.58,425.20) scale(0.850,1)" font-size="19.0" font-family="'Liberation Serif', serif" fill="#111">)</text>
<text transform="translate(594.90,425.20) scale(1.196,1)" font-size="17.6" font-family="'Liberation Serif', serif" fill="#111" font-style="italic">r</text>
<rect x="610.10" y="418.30" width="11.55" height="0.95" fill="#111"/>
<rect x="610.10" y="422.05" width="11.55" height="0.95" fill="#111"/>
<text transform="translate(629.43,425.20) scale(0.999,1)" font-size="17.6" font-family="'Liberation Serif', serif" fill="#111">0</text>
<text transform="translate(638.86,425.20) scale(0.850,1)" font-size="17.6" font-family="'Liberation Serif', serif" fill="#111">.</text>
<text transform="translate(642.69,425.20) scale(1.135,1)" font-size="17.6" font-family="'Liberation Serif', serif" fill="#111">5</text>
<rect x="65" y="456" width="320" height="1" fill="rgb(80,80,80)"/>
<rect x="65" y="457" width="320" height="1" fill="rgb(200,200,200)"/>
<rect x="65" y="772" width="320" height="1" fill="rgb(225,225,225)"/>
<rect x="65" y="773" width="320" height="1" fill="rgb(70,70,70)"/>
<rect x="65" y="774" width="320" height="1" fill="rgb(192,192,192)"/>
<rect x="65" y="456" width="1" height="319" fill="rgb(115,115,115)"/>
<rect x="66" y="456" width="1" height="319" fill="rgb(115,115,115)"/>
<rect x="383" y="456" width="1" height="319" fill="rgb(157,157,157)"/>
<rect x="384" y="456" width="1" height="319" fill="rgb(115,115,115)"/>
<line x1="59" y1="761.70" x2="66" y2="761.70" stroke="#333" stroke-width="1.3"/>
<text x="48.60" y="761.90" transform="rotate(-90 48.60 761.90)" text-anchor="middle" font-size="13.4" font-family="'Liberation Sans', sans-serif"><tspan dy="1.3">−</tspan><tspan dy="-1.3">0.6</tspan></text>
<line x1="59" y1="712.80" x2="66" y2="712.80" stroke="#333" stroke-width="1.3"/>
<text x="48.60" y="713.00" transform="rotate(-90 48.60 713.00)" text-anchor="middle" font-size="13.4" font-family="'Liberation Sans', sans-serif"><tspan dy="1.3">−</tspan><tspan dy="-1.3">0.4</tspan></text>
<line x1="59" y1="663.90" x2="66" y2="663.90" stroke="#333" stroke-width="1.3"/>
<text x="48.60" y="664.10" transform="rotate(-90 48.60 664.10)" text-anchor="middle" font-size="13.4" font-family="'Liberation Sans', sans-serif"><tspan dy="1.3">−</tspan><tspan dy="-1.3">0.2</tspan></text>
<line x1="59" y1="615.00" x2="66" y2="615.00" stroke="#333" stroke-width="1.3"/>
<text x="48.60" y="615.20" transform="rotate(-90 48.60 615.20)" text-anchor="middle" font-size="13.4" font-family="'Liberation Sans', sans-serif">0.0</text>
<line x1="59" y1="566.10" x2="66" y2="566.10" stroke="#333" stroke-width="1.3"/>
<text x="48.60" y="566.30" transform="rotate(-90 48.60 566.30)" text-anchor="middle" font-size="13.4" font-family="'Liberation Sans', sans-serif">0.2</text>
<line x1="59" y1="517.20" x2="66" y2="517.20" stroke="#333" stroke-width="1.3"/>
<text x="48.60" y="517.40" transform="rotate(-90 48.60 517.40)" text-anchor="middle" font-size="13.4" font-family="'Liberation Sans', sans-serif">0.4</text>
<line x1="59" y1="468.30" x2="66" y2="468.30" stroke="#333" stroke-width="1.3"/>
<text x="48.60" y="468.50" transform="rotate(-90 48.60 468.50)" text-anchor="middle" font-size="13.4" font-family="'Liberation Sans', sans-serif">0.6</text>
<line x1="77.78" y1="773.45" x2="77.78" y2="780.45" stroke="#333" stroke-width="1.3"/>
<path d="M81.38,798.30 L82.73,798.30 L82.73,789.20 L81.98,789.20 C81.48,790.30 80.48,790.70 79.28,790.90 L79.28,791.95 C80.08,791.85 80.78,791.60 81.38,791.25 Z" fill="#000"/>
<rect x="70.68" y="795.00" width="6.1" height="1.1" fill="#000"/>
<line x1="131.31" y1="773.45" x2="131.31" y2="780.45" stroke="#333" stroke-width="1.3"/>
<text x="131.31" y="799.00" text-anchor="middle" font-size="13.4" font-family="'Liberation Sans', sans-serif">0</text>
<line x1="184.85" y1="773.45" x2="184.85" y2="780.45" stroke="#333" stroke-width="1.3"/>
<path d="M184.55,798.30 L185.90,798.30 L185.90,789.20 L185.15,789.20 C184.65,790.30 183.65,790.70 182.45,790.90 L182.45,791.95 C183.25,791.85 183.95,791.60 184.55,791.25 Z" fill="#000"/>
<line x1="238.38" y1="773.45" x2="238.38" y2="780.45" stroke="#333" stroke-width="1.3"/>
<text x="238.38" y="799.00" text-anchor="middle" font-size="13.4" font-family="'Liberation Sans', sans-serif">2</text>
<line x1="291.92" y1="773.45" x2="291.92" y2="780.45" stroke="#333" stroke-width="1.3"/>
<text x="291.92" y="799.00" text-anchor="middle" font-size="13.4" font-family="'Liberation Sans', sans-serif">3</text>
<line x1="345.45" y1="773.45" x2="345.45" y2="780.45" stroke="#333" stroke-width="1.3"/>
<text x="345.45" y="799.00" text-anchor="middle" font-size="13.4" font-family="'Liberation Sans', sans-serif">4</text>
<text x="225.00" y="826.80" text-anchor="middle" font-size="16.4" font-family="'Liberation Sans', sans-serif">Age</text>
<text x="17.20" y="713.02" transform="rotate(-90 17.20 713.02)" font-size="16.3" font-family="'Liberation Sans', sans-serif">Varying Coefficient</text>
<text x="17.20" y="566.16" transform="rotate(-90 17.20 566.16)" font-size="16.2" font-family="'Liberation Serif', serif">ψ</text>
<text x="17.20" y="554.74" transform="rotate(-90 17.20 554.74)" font-size="16.0" font-family="'Liberation Sans', sans-serif">(Age)</text>
<circle cx="79.39" cy="531.99" r="1.2"/>
<circle cx="85.79" cy="537.84" r="1.2"/>
<circle cx="92.08" cy="543.81" r="1.2"/>
<circle cx="98.26" cy="549.89" r="1.2"/>
<circle cx="104.35" cy="556.05" r="1.2"/>
<circle cx="110.39" cy="562.28" r="1.2"/>
<circle cx="116.38" cy="568.55" r="1.2"/>
<circle cx="122.35" cy="574.83" r="1.2"/>
<circle cx="128.33" cy="581.11" r="1.2"/>
<circle cx="134.34" cy="587.36" r="1.2"/>
<circle cx="140.39" cy="593.57" r="1.2"/>
<circle cx="146.52" cy="599.70" r="1.2"/>
<circle cx="152.74" cy="605.74" r="1.2"/>
<circle cx="159.07" cy="611.66" r="1.2"/>
<circle cx="165.60" cy="617.37" r="1.2"/>
<circle cx="172.40" cy="622.75" r="1.2"/>
<circle cx="179.55" cy="627.65" r="1.2"/>
<circle cx="187.10" cy="631.90" r="1.2"/>
<circle cx="195.07" cy="635.29" r="1.2"/>
<circle cx="203.41" cy="637.63" r="1.2"/>
<circle cx="211.99" cy="638.90" r="1.2"/>
<circle cx="220.65" cy="639.08" r="1.2"/>
<circle cx="229.26" cy="638.16" r="1.2"/>
<circle cx="237.68" cy="636.12" r="1.2"/>
<circle cx="245.75" cy="632.96" r="1.2"/>
<circle cx="253.38" cy="628.86" r="1.2"/>
<circle cx="260.60" cy="624.06" r="1.2"/>
<circle cx="267.46" cy="618.75" r="1.2"/>
<circle cx="274.04" cy="613.11" r="1.2"/>
<circle cx="280.44" cy="607.26" r="1.2"/>
<circle cx="286.75" cy="601.31" r="1.2"/>
<circle cx="292.97" cy="595.27" r="1.2"/>
<circle cx="299.08" cy="589.13" r="1.2"/>
<circle cx="305.08" cy="582.87" r="1.2"/>
<circle cx="310.92" cy="576.46" r="1.2"/>
<circle cx="316.60" cy="569.91" r="1.2"/>
<circle cx="322.08" cy="563.20" r="1.2"/>
<circle cx="327.39" cy="556.34" r="1.2"/>
<circle cx="332.52" cy="549.35" r="1.2"/>
<circle cx="337.49" cy="542.25" r="1.2"/>
<circle cx="342.32" cy="535.05" r="1.2"/>
<circle cx="347.02" cy="527.76" r="1.2"/>
<circle cx="351.59" cy="520.40" r="1.2"/>
<circle cx="356.06" cy="512.97" r="1.2"/>
<circle cx="360.44" cy="505.48" r="1.2"/>
<circle cx="364.73" cy="497.95" r="1.2"/>
<circle cx="368.95" cy="490.38" r="1.2"/>
<circle cx="79.44" cy="614.02" r="1.2"/>
<circle cx="86.90" cy="618.43" r="1.2"/>
<circle cx="94.32" cy="622.92" r="1.2"/>
<circle cx="101.68" cy="627.50" r="1.2"/>
<circle cx="108.98" cy="632.18" r="1.2"/>
<circle cx="116.21" cy="636.96" r="1.2"/>
<circle cx="123.37" cy="641.85" r="1.2"/>
<circle cx="130.46" cy="646.84" r="1.2"/>
<circle cx="137.47" cy="651.94" r="1.2"/>
<circle cx="144.40" cy="657.16" r="1.2"/>
<circle cx="151.24" cy="662.48" r="1.2"/>
<circle cx="158.02" cy="667.88" r="1.2"/>
<circle cx="164.87" cy="673.20" r="1.2"/>
<circle cx="171.94" cy="678.21" r="1.2"/>
<circle cx="179.37" cy="682.67" r="1.2"/>
<circle cx="187.26" cy="686.27" r="1.2"/>
<circle cx="195.57" cy="688.70" r="1.2"/>
<circle cx="204.15" cy="689.91" r="1.2"/>
<circle cx="212.81" cy="689.91" r="1.2"/>
<circle cx="221.39" cy="688.71" r="1.2"/>
<circle cx="229.73" cy="686.36" r="1.2"/>
<circle cx="237.76" cy="683.11" r="1.2"/>
<circle cx="245.53" cy="679.27" r="1.2"/>
<circle cx="253.12" cy="675.07" r="1.2"/>
<circle cx="260.64" cy="670.76" r="1.2"/>
<circle cx="268.18" cy="666.48" r="1.2"/>
<circle cx="275.73" cy="662.22" r="1.2"/>
<circle cx="283.22" cy="657.85" r="1.2"/>
<circle cx="290.57" cy="653.25" r="1.2"/>
<circle cx="297.70" cy="648.33" r="1.2"/>
<circle cx="304.57" cy="643.03" r="1.2"/>
<circle cx="311.26" cy="637.52" r="1.2"/>
<circle cx="317.96" cy="632.02" r="1.2"/>
<circle cx="324.82" cy="626.71" r="1.2"/>
<circle cx="331.99" cy="621.84" r="1.2"/>
<circle cx="339.61" cy="617.71" r="1.2"/>
<circle cx="347.72" cy="614.68" r="1.2"/>
<circle cx="356.23" cy="613.10" r="1.2"/>
<circle cx="364.89" cy="613.16" r="1.2"/>
<path d="M78.74,573.01 L79.61,573.55 L80.47,574.10 L81.33,574.65 L82.19,575.20 L83.04,575.76 L83.88,576.33 L84.73,576.89 L85.56,577.46 L86.40,578.04 L87.22,578.62 L88.05,579.20 L88.87,579.78 L89.69,580.37 L90.50,580.96 L91.31,581.56 L92.11,582.16 L92.91,582.76 L93.71,583.36 L94.50,583.97 L95.29,584.58 L96.08,585.20 L96.86,585.81 L97.65,586.43 L98.42,587.06 L99.20,587.68 L99.97,588.31 L100.74,588.94 L101.50,589.57 L102.27,590.21 L103.03,590.85 L103.79,591.49 L104.54,592.13 L105.30,592.78 L106.05,593.42 L106.80,594.07 L107.54,594.72 L108.29,595.38 L109.03,596.03 L109.77,596.69 L110.51,597.35 L111.25,598.01 L111.99,598.67 L112.72,599.34 L113.45,600.00 L114.18,600.67 L114.92,601.34 L115.64,602.01 L116.37,602.68 L117.10,603.35 L117.83,604.02 L118.55,604.70 L119.28,605.37 L120.00,606.05 L120.72,606.73 L121.45,607.41 L122.17,608.09 L122.89,608.77 L123.61,609.45 L124.34,610.13 L125.06,610.81 L125.78,611.49 L126.50,612.17 L127.22,612.86 L127.94,613.54 L128.67,614.22 L129.39,614.91 L130.11,615.59 L130.84,616.28 L131.56,616.96 L132.29,617.64 L133.01,618.33 L133.74,619.01 L134.47,619.69 L135.20,620.38 L135.93,621.06 L136.66,621.74 L137.39,622.42 L138.12,623.10 L138.86,623.78 L139.60,624.46 L140.33,625.14 L141.08,625.82 L141.82,626.50 L142.56,627.17 L143.31,627.85 L144.06,628.52 L144.81,629.20 L145.56,629.87 L146.31,630.54 L147.07,631.21 L147.83,631.88 L148.59,632.54 L149.36,633.21 L150.13,633.87 L150.90,634.53 L151.67,635.19 L152.45,635.85 L153.23,636.51 L154.01,637.16 L154.79,637.81 L155.58,638.46 L156.37,639.10 L157.16,639.74 L157.96,640.38 L158.76,641.01 L159.56,641.64 L160.37,642.26 L161.18,642.88 L161.99,643.49 L162.81,644.10 L163.63,644.70 L164.45,645.30 L165.28,645.89 L166.10,646.47 L166.94,647.05 L167.77,647.62 L168.61,648.19 L169.45,648.74 L170.30,649.29 L171.15,649.83 L172.00,650.37 L172.86,650.89 L173.71,651.41 L174.58,651.92 L175.44,652.42 L176.31,652.91 L177.19,653.39 L178.07,653.86 L178.95,654.32 L179.83,654.77 L180.72,655.21 L181.61,655.64 L182.51,656.06 L183.41,656.47 L184.31,656.87 L185.22,657.25 L186.13,657.63 L187.05,657.99 L187.97,658.34 L188.89,658.67 L189.82,659.00 L190.75,659.31 L191.68,659.60 L192.62,659.89 L193.57,660.16 L194.51,660.41 L195.46,660.66 L196.41,660.89 L197.37,661.11 L198.33,661.31 L199.29,661.50 L200.25,661.68 L201.22,661.85 L202.19,662.00 L203.16,662.14 L204.13,662.26 L205.10,662.38 L206.08,662.47 L207.05,662.56 L208.03,662.63 L209.01,662.69 L209.99,662.74 L210.97,662.77 L211.95,662.79 L212.93,662.80 L213.91,662.79 L214.89,662.77 L215.87,662.74 L216.85,662.69 L217.83,662.64 L218.81,662.56 L219.79,662.48 L220.77,662.38 L221.75,662.27 L222.73,662.14 L223.70,662.00 L224.67,661.85 L225.65,661.69 L226.62,661.51 L227.58,661.32 L228.55,661.11 L229.51,660.90 L230.47,660.66 L231.43,660.42 L232.39,660.16 L233.34,659.89 L234.29,659.61 L235.24,659.32 L236.18,659.01 L237.13,658.70 L238.07,658.37 L239.00,658.03 L239.94,657.68 L240.87,657.32 L241.80,656.95 L242.73,656.57 L243.65,656.18 L244.57,655.78 L245.49,655.37 L246.40,654.95 L247.31,654.52 L248.22,654.08 L249.13,653.64 L250.03,653.19 L250.93,652.73 L251.83,652.26 L252.72,651.78 L253.61,651.30 L254.50,650.81 L255.38,650.31 L256.26,649.81 L257.14,649.30 L258.02,648.79 L258.89,648.27 L259.76,647.74 L260.62,647.21 L261.48,646.68 L262.34,646.14 L263.20,645.59 L264.05,645.04 L264.89,644.49 L265.74,643.93 L266.58,643.37 L267.42,642.81 L268.25,642.24 L269.08,641.67 L269.91,641.09 L270.74,640.52 L271.56,639.94 L272.38,639.35 L273.20,638.77 L274.01,638.18 L274.82,637.58 L275.63,636.99 L276.43,636.39 L277.24,635.79 L278.04,635.19 L278.84,634.58 L279.63,633.97 L280.42,633.36 L281.22,632.75 L282.00,632.13 L282.79,631.51 L283.58,630.89 L284.36,630.27 L285.14,629.65 L285.92,629.02 L286.70,628.39 L287.47,627.76 L288.25,627.13 L289.02,626.50 L289.79,625.86 L290.56,625.23 L291.33,624.59 L292.09,623.95 L292.86,623.31 L293.62,622.67 L294.38,622.02 L295.15,621.38 L295.91,620.74 L296.67,620.09 L297.43,619.44 L298.18,618.79 L298.94,618.15 L299.70,617.50 L300.45,616.85 L301.21,616.20 L301.96,615.54 L302.72,614.89 L303.47,614.24 L304.23,613.59 L304.98,612.93 L305.73,612.28 L306.48,611.63 L307.24,610.97 L307.99,610.32 L308.74,609.67 L309.49,609.01 L310.24,608.36 L310.99,607.70 L311.75,607.05 L312.50,606.40 L313.25,605.74 L314.00,605.09 L314.75,604.43 L315.51,603.78 L316.26,603.13 L317.01,602.48 L317.76,601.83 L318.52,601.17 L319.27,600.52 L320.03,599.87 L320.78,599.22 L321.54,598.58 L322.29,597.93 L323.05,597.28 L323.81,596.63 L324.56,595.99 L325.32,595.34 L326.08,594.70 L326.84,594.06 L327.60,593.42 L328.37,592.78 L329.13,592.14 L329.89,591.50 L330.66,590.86 L331.43,590.23 L332.19,589.59 L332.96,588.96 L333.73,588.33 L334.50,587.70 L335.28,587.07 L336.05,586.45 L336.83,585.82 L337.60,585.20 L338.38,584.58 L339.16,583.96 L339.94,583.34 L340.73,582.73 L341.51,582.11 L342.30,581.50 L343.08,580.89 L343.87,580.28 L344.66,579.68 L345.46,579.08 L346.25,578.47 L347.05,577.88 L347.85,577.28 L348.65,576.69 L349.45,576.09 L350.26,575.50 L351.07,574.92 L351.88,574.33 L352.69,573.75 L353.50,573.17 L354.32,572.60 L355.14,572.02 L355.96,571.45 L356.78,570.89 L357.61,570.32 L358.44,569.76 L359.27,569.20 L360.10,568.65 L360.94,568.09 L361.78,567.54 L362.62,567.00 L363.47,566.45 L364.31,565.91 L365.16,565.38 L366.02,564.85 L366.87,564.32 L367.73,563.79 L368.60,563.27 L369.46,562.75 L370.33,562.23 L371.20,561.72 L372.08,561.21" fill="none" stroke="#000" stroke-width="1.6"/>
<path d="M78.39,574.01 L79.30,574.51 L80.19,575.02 L81.08,575.52 L81.97,576.04 L82.85,576.56 L83.73,577.08 L84.60,577.61 L85.46,578.14 L86.32,578.67 L87.18,579.21 L88.03,579.76 L88.87,580.31 L89.72,580.86 L90.55,581.41 L91.39,581.97 L92.22,582.54 L93.04,583.11 L93.86,583.68 L94.68,584.25 L95.49,584.83 L96.30,585.42 L97.10,586.00 L97.91,586.59 L98.70,587.18 L99.50,587.78 L100.29,588.38 L101.08,588.98 L101.86,589.59 L102.64,590.20 L103.42,590.81 L104.20,591.42 L104.97,592.04 L105.74,592.66 L106.51,593.28 L107.27,593.91 L108.04,594.54 L108.80,595.17 L109.56,595.80 L110.31,596.43 L111.07,597.07 L111.82,597.71 L112.57,598.35 L113.31,599.00 L114.06,599.64 L114.81,600.29 L115.55,600.94 L116.29,601.59 L117.03,602.25 L117.77,602.90 L118.51,603.56 L119.24,604.22 L119.98,604.88 L120.71,605.54 L121.45,606.20 L122.18,606.87 L122.91,607.53 L123.64,608.20 L124.37,608.87 L125.10,609.54 L125.83,610.21 L126.56,610.88 L127.29,611.55 L128.02,612.22 L128.75,612.90 L129.48,613.57 L130.21,614.25 L130.94,614.92 L131.67,615.60 L132.41,616.27 L133.14,616.95 L133.87,617.63 L134.60,618.30 L135.34,618.98 L136.07,619.66 L136.81,620.34 L137.55,621.01 L138.29,621.69 L139.02,622.37 L139.77,623.05 L140.51,623.72 L141.25,624.40 L142.00,625.07 L142.75,625.75 L143.49,626.42 L144.25,627.10 L145.00,627.77 L145.75,628.44 L146.51,629.12 L147.27,629.79 L148.03,630.46 L148.80,631.13 L149.57,631.79 L150.33,632.46 L151.11,633.13 L151.88,633.79 L152.66,634.45 L153.44,635.11 L154.22,635.77 L155.01,636.43 L155.80,637.08 L156.59,637.73 L157.38,638.38 L158.18,639.02 L158.98,639.66 L159.78,640.30 L160.59,640.93 L161.40,641.56 L162.21,642.18 L163.03,642.80 L163.84,643.41 L164.66,644.02 L165.49,644.62 L166.32,645.22 L167.15,645.81 L167.98,646.39 L168.82,646.97 L169.65,647.55 L170.50,648.11 L171.34,648.67 L172.19,649.22 L173.04,649.76 L173.90,650.30 L174.76,650.83 L175.62,651.35 L176.49,651.86 L177.35,652.36 L178.23,652.85 L179.10,653.34 L179.98,653.81 L180.86,654.28 L181.75,654.73 L182.64,655.18 L183.53,655.62 L184.43,656.04 L185.33,656.45 L186.23,656.86 L187.14,657.25 L188.05,657.63 L188.96,658.00 L189.88,658.36 L190.80,658.70 L191.72,659.03 L192.65,659.35 L193.58,659.66 L194.52,659.96 L195.46,660.24 L196.40,660.51 L197.35,660.76 L198.30,661.00 L199.25,661.23 L200.20,661.45 L201.16,661.65 L202.12,661.84 L203.08,662.01 L204.05,662.18 L205.01,662.33 L205.98,662.46 L206.95,662.58 L207.91,662.69 L208.89,662.78 L209.86,662.87 L210.83,662.93 L211.80,662.99 L212.78,663.02 L213.75,663.05 L214.72,663.06 L215.70,663.06 L216.67,663.04 L217.64,663.01 L218.61,662.97 L219.59,662.91 L220.56,662.84 L221.53,662.75 L222.49,662.65 L223.46,662.53 L224.42,662.40 L225.39,662.26 L226.35,662.10 L227.31,661.93 L228.26,661.74 L229.22,661.54 L230.17,661.32 L231.12,661.09 L232.07,660.85 L233.01,660.59 L233.96,660.33 L234.90,660.04 L235.83,659.75 L236.77,659.44 L237.70,659.13 L238.63,658.80 L239.56,658.45 L240.49,658.10 L241.41,657.74 L242.33,657.36 L243.25,656.98 L244.16,656.58 L245.07,656.17 L245.98,655.75 L246.88,655.33 L247.79,654.89 L248.69,654.44 L249.58,653.99 L250.48,653.52 L251.37,653.05 L252.26,652.56 L253.14,652.07 L254.02,651.57 L254.90,651.07 L255.78,650.55 L256.65,650.03 L257.52,649.50 L258.38,648.96 L259.24,648.42 L260.10,647.86 L260.96,647.31 L261.81,646.74 L262.65,646.17 L263.50,645.60 L264.34,645.01 L265.18,644.43 L266.01,643.83 L266.84,643.24 L267.67,642.63 L268.49,642.03 L269.31,641.42 L270.12,640.80 L270.93,640.18 L271.74,639.56 L272.54,638.93 L273.34,638.30 L274.14,637.67 L274.93,637.03 L275.72,636.39 L276.50,635.75 L277.28,635.10 L278.06,634.45 L278.83,633.80 L279.60,633.15 L280.37,632.50 L281.14,631.84 L281.90,631.18 L282.66,630.52 L283.41,629.85 L284.17,629.19 L284.92,628.52 L285.67,627.85 L286.41,627.18 L287.16,626.51 L287.90,625.83 L288.64,625.16 L289.38,624.48 L290.12,623.80 L290.85,623.12 L291.59,622.44 L292.32,621.76 L293.05,621.08 L293.78,620.40 L294.51,619.72 L295.24,619.03 L295.97,618.35 L296.70,617.67 L297.42,616.98 L298.15,616.30 L298.88,615.61 L299.60,614.93 L300.33,614.25 L301.05,613.56 L301.78,612.88 L302.50,612.20 L303.23,611.51 L303.96,610.83 L304.68,610.15 L305.41,609.47 L306.14,608.79 L306.87,608.11 L307.60,607.44 L308.33,606.76 L309.06,606.09 L309.80,605.41 L310.53,604.74 L311.27,604.07 L312.01,603.40 L312.75,602.74 L313.49,602.07 L314.23,601.41 L314.98,600.75 L315.72,600.09 L316.47,599.43 L317.23,598.78 L317.98,598.13 L318.74,597.48 L319.49,596.84 L320.25,596.19 L321.02,595.55 L321.78,594.92 L322.55,594.28 L323.32,593.65 L324.09,593.03 L324.87,592.40 L325.65,591.78 L326.43,591.17 L327.21,590.55 L328.00,589.95 L328.79,589.34 L329.58,588.74 L330.37,588.15 L331.17,587.56 L331.97,586.97 L332.78,586.39 L333.59,585.81 L334.40,585.24 L335.21,584.67 L336.03,584.11 L336.85,583.56 L337.67,583.00 L338.50,582.46 L339.33,581.92 L340.17,581.38 L341.00,580.85 L341.85,580.33 L342.69,579.81 L343.54,579.30 L344.40,578.80 L345.25,578.30 L346.12,577.81 L346.98,577.32 L347.85,576.85 L348.72,576.37 L349.60,575.91 L350.48,575.45 L351.37,575.00 L352.26,574.56 L353.16,574.12 L354.06,573.69 L354.96,573.27 L355.87,572.86 L356.78,572.45 L357.70,572.05 L358.62,571.67 L359.55,571.28 L360.48,570.91 L361.42,570.55 L362.36,570.19 L363.31,569.84 L364.26,569.50 L365.21,569.17 L366.18,568.85 L367.14,568.54 L368.12,568.23 L369.09,567.94 L370.08,567.66 L371.06,567.38 L372.06,567.11 L373.06,566.86" fill="none" stroke="#f00" stroke-width="2.85" stroke-dasharray="8.67 8.67"/>
<text transform="translate(160.21,875.90) scale(0.881,1)" font-size="19.0" font-family="'Liberation Serif', serif" fill="#111">(</text>
<text transform="translate(166.44,875.90) scale(1.212,1)" font-size="17.6" font-family="'Liberation Serif', serif" fill="#111">c</text>
<text transform="translate(176.06,875.90) scale(0.881,1)" font-size="19.0" font-family="'Liberation Serif', serif" fill="#111">)</text>
<text transform="translate(190.74,875.90) scale(1.204,1)" font-size="17.6" font-family="'Liberation Serif', serif" fill="#111" font-style="italic">r</text>
<rect x="206.60" y="869.00" width="12.45" height="0.95" fill="#111"/>
<rect x="206.60" y="872.75" width="12.45" height="0.95" fill="#111"/>
<text transform="translate(225.71,875.90) scale(0.993,1)" font-size="17.6" font-family="'Liberation Serif', serif" fill="#111">1</text>
<rect x="475" y="456" width="320" height="1" fill="rgb(80,80,80)"/>
<rect x="475" y="457" width="320" height="1" fill="rgb(200,200,200)"/>
<rect x="475" y="772" width="320" height="1" fill="rgb(225,225,225)"/>
<rect x="475" y="773" width="320" height="1" fill="rgb(70,70,70)"/>
<rect x="475" y="774" width="320" height="1" fill="rgb(192,192,192)"/>
<rect x="475" y="456" width="1" height="319" fill="rgb(115,115,115)"/>
<rect x="476" y="456" width="1" height="319" fill="rgb(115,115,115)"/>
<rect x="793" y="456" width="1" height="319" fill="rgb(157,157,157)"/>
<rect x="794" y="456" width="1" height="319" fill="rgb(115,115,115)"/>
<line x1="469" y1="761.70" x2="476" y2="761.70" stroke="#333" stroke-width="1.3"/>
<text x="458.60" y="761.90" transform="rotate(-90 458.60 761.90)" text-anchor="middle" font-size="13.4" font-family="'Liberation Sans', sans-serif"><tspan dy="1.3">−</tspan><tspan dy="-1.3">0.6</tspan></text>
<line x1="469" y1="712.80" x2="476" y2="712.80" stroke="#333" stroke-width="1.3"/>
<text x="458.60" y="713.00" transform="rotate(-90 458.60 713.00)" text-anchor="middle" font-size="13.4" font-family="'Liberation Sans', sans-serif"><tspan dy="1.3">−</tspan><tspan dy="-1.3">0.4</tspan></text>
<line x1="469" y1="663.90" x2="476" y2="663.90" stroke="#333" stroke-width="1.3"/>
<text x="458.60" y="664.10" transform="rotate(-90 458.60 664.10)" text-anchor="middle" font-size="13.4" font-family="'Liberation Sans', sans-serif"><tspan dy="1.3">−</tspan><tspan dy="-1.3">0.2</tspan></text>
<line x1="469" y1="615.00" x2="476" y2="615.00" stroke="#333" stroke-width="1.3"/>
<text x="458.60" y="615.20" transform="rotate(-90 458.60 615.20)" text-anchor="middle" font-size="13.4" font-family="'Liberation Sans', sans-serif">0.0</text>
<line x1="469" y1="566.10" x2="476" y2="566.10" stroke="#333" stroke-width="1.3"/>
<text x="458.60" y="566.30" transform="rotate(-90 458.60 566.30)" text-anchor="middle" font-size="13.4" font-family="'Liberation Sans', sans-serif">0.2</text>
<line x1="469" y1="517.20" x2="476" y2="517.20" stroke="#333" stroke-width="1.3"/>
<text x="458.60" y="517.40" transform="rotate(-90 458.60 517.40)" text-anchor="middle" font-size="13.4" font-family="'Liberation Sans', sans-serif">0.4</text>
<line x1="469" y1="468.30" x2="476" y2="468.30" stroke="#333" stroke-width="1.3"/>
<text x="458.60" y="468.50" transform="rotate(-90 458.60 468.50)" text-anchor="middle" font-size="13.4" font-family="'Liberation Sans', sans-serif">0.6</text>
<line x1="487.78" y1="773.45" x2="487.78" y2="780.45" stroke="#333" stroke-width="1.3"/>
<path d="M491.38,798.30 L492.73,798.30 L492.73,789.20 L491.98,789.20 C491.48,790.30 490.48,790.70 489.28,790.90 L489.28,791.95 C490.08,791.85 490.78,791.60 491.38,791.25 Z" fill="#000"/>
<rect x="480.68" y="795.00" width="6.1" height="1.1" fill="#000"/>
<line x1="536.85" y1="773.45" x2="536.85" y2="780.45" stroke="#333" stroke-width="1.3"/>
<text x="536.85" y="799.00" text-anchor="middle" font-size="13.4" font-family="'Liberation Sans', sans-serif">0</text>
<line x1="585.93" y1="773.45" x2="585.93" y2="780.45" stroke="#333" stroke-width="1.3"/>
<path d="M585.63,798.30 L586.98,798.30 L586.98,789.20 L586.23,789.20 C585.73,790.30 584.73,790.70 583.53,790.90 L583.53,791.95 C584.33,791.85 585.03,791.60 585.63,791.25 Z" fill="#000"/>
<line x1="635.00" y1="773.45" x2="635.00" y2="780.45" stroke="#333" stroke-width="1.3"/>
<text x="635.00" y="799.00" text-anchor="middle" font-size="13.4" font-family="'Liberation Sans', sans-serif">2</text>
<line x1="684.07" y1="773.45" x2="684.07" y2="780.45" stroke="#333" stroke-width="1.3"/>
<text x="684.07" y="799.00" text-anchor="middle" font-size="13.4" font-family="'Liberation Sans', sans-serif">3</text>
<line x1="733.15" y1="773.45" x2="733.15" y2="780.45" stroke="#333" stroke-width="1.3"/>
<text x="733.15" y="799.00" text-anchor="middle" font-size="13.4" font-family="'Liberation Sans', sans-serif">4</text>
<line x1="782.22" y1="773.45" x2="782.22" y2="780.45" stroke="#333" stroke-width="1.3"/>
<text x="782.22" y="799.00" text-anchor="middle" font-size="13.4" font-family="'Liberation Sans', sans-serif">5</text>
<text x="635.00" y="826.80" text-anchor="middle" font-size="16.4" font-family="'Liberation Sans', sans-serif">Age</text>
<text x="427.20" y="713.02" transform="rotate(-90 427.20 713.02)" font-size="16.3" font-family="'Liberation Sans', sans-serif">Varying Coefficient</text>
<text x="427.20" y="566.16" transform="rotate(-90 427.20 566.16)" font-size="16.2" font-family="'Liberation Serif', serif">ψ</text>
<text x="427.20" y="554.74" transform="rotate(-90 427.20 554.74)" font-size="16.0" font-family="'Liberation Sans', sans-serif">(Age)</text>
<circle cx="491.14" cy="517.23" r="1.2"/>
<circle cx="497.57" cy="523.04" r="1.2"/>
<circle cx="503.73" cy="529.14" r="1.2"/>
<circle cx="509.63" cy="535.49" r="1.2"/>
<circle cx="515.30" cy="542.05" r="1.2"/>
<circle cx="520.79" cy="548.76" r="1.2"/>
<circle cx="526.13" cy="555.59" r="1.2"/>
<circle cx="531.37" cy="562.50" r="1.2"/>
<circle cx="536.56" cy="569.44" r="1.2"/>
<circle cx="541.75" cy="576.39" r="1.2"/>
<circle cx="546.99" cy="583.30" r="1.2"/>
<circle cx="552.32" cy="590.14" r="1.2"/>
<circle cx="557.78" cy="596.87" r="1.2"/>
<circle cx="563.44" cy="603.44" r="1.2"/>
<circle cx="569.37" cy="609.76" r="1.2"/>
<circle cx="575.66" cy="615.72" r="1.2"/>
<circle cx="582.39" cy="621.18" r="1.2"/>
<circle cx="589.62" cy="625.96" r="1.2"/>
<circle cx="597.34" cy="629.89" r="1.2"/>
<circle cx="605.50" cy="632.81" r="1.2"/>
<circle cx="613.99" cy="634.52" r="1.2"/>
<circle cx="622.64" cy="634.71" r="1.2"/>
<circle cx="631.15" cy="633.10" r="1.2"/>
<circle cx="639.25" cy="630.03" r="1.2"/>
<circle cx="646.91" cy="625.99" r="1.2"/>
<circle cx="654.14" cy="621.20" r="1.2"/>
<circle cx="660.97" cy="615.87" r="1.2"/>
<circle cx="667.47" cy="610.13" r="1.2"/>
<circle cx="673.73" cy="604.13" r="1.2"/>
<circle cx="679.85" cy="597.99" r="1.2"/>
<circle cx="685.92" cy="591.80" r="1.2"/>
<circle cx="691.97" cy="585.59" r="1.2"/>
<circle cx="697.99" cy="579.36" r="1.2"/>
<circle cx="703.99" cy="573.09" r="1.2"/>
<circle cx="709.95" cy="566.80" r="1.2"/>
<circle cx="715.88" cy="560.47" r="1.2"/>
<circle cx="721.80" cy="554.14" r="1.2"/>
<circle cx="727.75" cy="547.84" r="1.2"/>
<circle cx="733.78" cy="541.60" r="1.2"/>
<circle cx="739.90" cy="535.46" r="1.2"/>
<circle cx="746.16" cy="529.47" r="1.2"/>
<circle cx="752.58" cy="523.64" r="1.2"/>
<circle cx="759.05" cy="517.87" r="1.2"/>
<circle cx="765.42" cy="511.99" r="1.2"/>
<circle cx="771.58" cy="505.88" r="1.2"/>
<circle cx="777.73" cy="499.77" r="1.2"/>
<circle cx="491.24" cy="625.24" r="1.2"/>
<circle cx="498.73" cy="629.60" r="1.2"/>
<circle cx="506.13" cy="634.11" r="1.2"/>
<circle cx="513.43" cy="638.80" r="1.2"/>
<circle cx="520.59" cy="643.68" r="1.2"/>
<circle cx="527.63" cy="648.74" r="1.2"/>
<circle cx="534.56" cy="653.96" r="1.2"/>
<circle cx="541.53" cy="659.12" r="1.2"/>
<circle cx="548.71" cy="663.97" r="1.2"/>
<circle cx="556.22" cy="668.29" r="1.2"/>
<circle cx="563.86" cy="672.39" r="1.2"/>
<circle cx="571.43" cy="676.63" r="1.2"/>
<circle cx="579.02" cy="680.81" r="1.2"/>
<circle cx="586.79" cy="684.66" r="1.2"/>
<circle cx="594.86" cy="687.82" r="1.2"/>
<circle cx="603.28" cy="689.84" r="1.2"/>
<circle cx="611.92" cy="690.28" r="1.2"/>
<circle cx="620.51" cy="689.18" r="1.2"/>
<circle cx="628.85" cy="686.84" r="1.2"/>
<circle cx="636.86" cy="683.51" r="1.2"/>
<circle cx="644.48" cy="679.39" r="1.2"/>
<circle cx="651.73" cy="674.64" r="1.2"/>
<circle cx="658.66" cy="669.43" r="1.2"/>
<circle cx="665.34" cy="663.90" r="1.2"/>
<circle cx="671.88" cy="658.22" r="1.2"/>
<circle cx="678.41" cy="652.52" r="1.2"/>
<circle cx="685.04" cy="646.92" r="1.2"/>
<circle cx="691.77" cy="641.45" r="1.2"/>
<circle cx="698.57" cy="636.07" r="1.2"/>
<circle cx="705.41" cy="630.75" r="1.2"/>
<circle cx="712.27" cy="625.45" r="1.2"/>
<circle cx="719.15" cy="620.17" r="1.2"/>
<circle cx="726.21" cy="615.14" r="1.2"/>
<circle cx="733.67" cy="610.74" r="1.2"/>
<circle cx="741.69" cy="607.49" r="1.2"/>
<circle cx="750.23" cy="606.08" r="1.2"/>
<circle cx="758.81" cy="607.03" r="1.2"/>
<circle cx="766.70" cy="610.53" r="1.2"/>
<circle cx="772.99" cy="616.45" r="1.2"/>
<circle cx="778.03" cy="623.50" r="1.2"/>
<path d="M490.91,572.40 L491.73,573.03 L492.54,573.65 L493.35,574.28 L494.15,574.91 L494.95,575.54 L495.75,576.18 L496.54,576.81 L497.33,577.45 L498.12,578.09 L498.90,578.73 L499.68,579.37 L500.46,580.01 L501.24,580.66 L502.01,581.30 L502.78,581.95 L503.54,582.60 L504.31,583.25 L505.07,583.90 L505.83,584.56 L506.58,585.21 L507.34,585.87 L508.09,586.53 L508.84,587.19 L509.59,587.85 L510.33,588.51 L511.07,589.17 L511.81,589.84 L512.55,590.50 L513.29,591.17 L514.02,591.83 L514.76,592.50 L515.49,593.17 L516.22,593.84 L516.95,594.51 L517.67,595.19 L518.40,595.86 L519.12,596.53 L519.84,597.21 L520.56,597.88 L521.28,598.56 L522.00,599.24 L522.72,599.92 L523.44,600.59 L524.15,601.27 L524.87,601.95 L525.58,602.63 L526.30,603.32 L527.01,604.00 L527.72,604.68 L528.43,605.36 L529.14,606.05 L529.86,606.73 L530.57,607.41 L531.28,608.10 L531.99,608.78 L532.70,609.47 L533.41,610.15 L534.12,610.84 L534.83,611.52 L535.54,612.21 L536.25,612.90 L536.96,613.58 L537.67,614.27 L538.38,614.96 L539.09,615.64 L539.80,616.33 L540.52,617.02 L541.23,617.70 L541.94,618.39 L542.66,619.08 L543.37,619.76 L544.09,620.45 L544.81,621.13 L545.53,621.82 L546.25,622.50 L546.97,623.19 L547.69,623.87 L548.41,624.56 L549.14,625.24 L549.86,625.93 L550.59,626.61 L551.32,627.29 L552.05,627.98 L552.78,628.66 L553.52,629.34 L554.25,630.02 L554.99,630.70 L555.73,631.38 L556.47,632.06 L557.22,632.74 L557.96,633.42 L558.71,634.09 L559.46,634.77 L560.22,635.44 L560.97,636.12 L561.73,636.79 L562.49,637.46 L563.25,638.14 L564.02,638.81 L564.79,639.48 L565.56,640.15 L566.33,640.81 L567.11,641.48 L567.89,642.14 L568.67,642.80 L569.46,643.46 L570.25,644.11 L571.04,644.76 L571.84,645.41 L572.64,646.05 L573.44,646.68 L574.25,647.31 L575.06,647.94 L575.87,648.55 L576.69,649.16 L577.51,649.77 L578.33,650.36 L579.16,650.95 L579.99,651.52 L580.83,652.09 L581.67,652.65 L582.51,653.20 L583.36,653.74 L584.21,654.27 L585.07,654.78 L585.93,655.29 L586.79,655.78 L587.66,656.26 L588.54,656.73 L589.42,657.18 L590.30,657.62 L591.19,658.05 L592.08,658.46 L592.98,658.85 L593.88,659.23 L594.79,659.60 L595.70,659.95 L596.61,660.28 L597.54,660.59 L598.46,660.89 L599.40,661.17 L600.33,661.43 L601.28,661.67 L602.22,661.89 L603.18,662.09 L604.13,662.28 L605.09,662.44 L606.06,662.59 L607.02,662.71 L607.99,662.82 L608.97,662.91 L609.94,662.97 L610.92,663.02 L611.90,663.05 L612.87,663.05 L613.85,663.04 L614.84,663.00 L615.82,662.95 L616.80,662.87 L617.78,662.78 L618.75,662.66 L619.73,662.52 L620.71,662.37 L621.68,662.19 L622.66,661.99 L623.63,661.77 L624.59,661.53 L625.56,661.28 L626.52,661.01 L627.48,660.72 L628.44,660.42 L629.39,660.10 L630.34,659.77 L631.29,659.42 L632.23,659.06 L633.17,658.68 L634.10,658.30 L635.03,657.90 L635.96,657.50 L636.88,657.08 L637.80,656.65 L638.71,656.22 L639.61,655.78 L640.51,655.33 L641.41,654.87 L642.30,654.40 L643.18,653.93 L644.06,653.45 L644.93,652.97 L645.80,652.48 L646.66,651.98 L647.52,651.47 L648.37,650.96 L649.22,650.45 L650.06,649.92 L650.90,649.39 L651.74,648.86 L652.57,648.32 L653.39,647.77 L654.21,647.22 L655.03,646.66 L655.84,646.10 L656.65,645.53 L657.46,644.95 L658.26,644.37 L659.06,643.79 L659.85,643.20 L660.64,642.61 L661.43,642.01 L662.21,641.40 L662.99,640.80 L663.76,640.18 L664.54,639.57 L665.31,638.95 L666.07,638.32 L666.84,637.69 L667.60,637.06 L668.36,636.42 L669.11,635.78 L669.86,635.14 L670.61,634.49 L671.36,633.84 L672.11,633.18 L672.85,632.52 L673.59,631.86 L674.33,631.20 L675.06,630.53 L675.80,629.86 L676.53,629.19 L677.26,628.51 L677.99,627.84 L678.71,627.15 L679.44,626.47 L680.16,625.79 L680.89,625.10 L681.61,624.41 L682.33,623.72 L683.05,623.03 L683.76,622.33 L684.48,621.63 L685.19,620.94 L685.91,620.24 L686.62,619.54 L687.34,618.83 L688.05,618.13 L688.76,617.43 L689.47,616.72 L690.18,616.01 L690.89,615.31 L691.60,614.60 L692.31,613.89 L693.02,613.18 L693.74,612.47 L694.45,611.76 L695.16,611.06 L695.87,610.35 L696.58,609.64 L697.29,608.93 L698.00,608.22 L698.72,607.51 L699.43,606.80 L700.14,606.09 L700.86,605.38 L701.57,604.68 L702.29,603.97 L703.01,603.27 L703.73,602.56 L704.45,601.86 L705.17,601.16 L705.89,600.46 L706.62,599.76 L707.35,599.06 L708.07,598.37 L708.80,597.67 L709.53,596.98 L710.27,596.29 L711.00,595.60 L711.74,594.92 L712.48,594.23 L713.22,593.55 L713.97,592.87 L714.71,592.20 L715.46,591.52 L716.21,590.85 L716.97,590.18 L717.73,589.52 L718.49,588.85 L719.25,588.19 L720.01,587.54 L720.78,586.89 L721.55,586.24 L722.33,585.59 L723.11,584.95 L723.89,584.31 L724.67,583.68 L725.46,583.05 L726.25,582.43 L727.05,581.82 L727.85,581.21 L728.65,580.61 L729.45,580.01 L730.26,579.42 L731.07,578.84 L731.89,578.26 L732.71,577.69 L733.53,577.14 L734.36,576.58 L735.19,576.04 L736.03,575.51 L736.87,574.99 L737.71,574.47 L738.56,573.97 L739.41,573.47 L740.26,572.99 L741.12,572.51 L741.99,572.05 L742.85,571.60 L743.73,571.16 L744.60,570.73 L745.49,570.32 L746.37,569.91 L747.26,569.52 L748.16,569.15 L749.06,568.78 L749.96,568.43 L750.87,568.09 L751.78,567.77 L752.70,567.46 L753.63,567.17 L754.55,566.89 L755.49,566.63 L756.43,566.38 L757.37,566.15 L758.32,565.94 L759.27,565.74 L760.23,565.56 L761.19,565.39 L762.16,565.25 L763.14,565.12 L764.12,565.01 L765.10,564.91 L766.09,564.84 L767.09,564.78 L768.09,564.75 L769.10,564.73 L770.11,564.73 L771.13,564.76 L772.15,564.80 L773.18,564.87 L774.22,564.95 L775.26,565.06 L776.31,565.18 L777.36,565.33 L778.42,565.51 L779.49,565.70 L780.56,565.92" fill="none" stroke="#000" stroke-width="1.6"/>
<path d="M490.39,575.44 L491.27,575.99 L492.14,576.55 L493.01,577.11 L493.88,577.68 L494.73,578.25 L495.58,578.82 L496.43,579.40 L497.27,579.98 L498.10,580.57 L498.93,581.16 L499.76,581.75 L500.58,582.34 L501.39,582.94 L502.20,583.55 L503.00,584.15 L503.80,584.76 L504.60,585.38 L505.39,585.99 L506.18,586.61 L506.96,587.23 L507.74,587.86 L508.51,588.49 L509.28,589.12 L510.05,589.75 L510.81,590.39 L511.57,591.03 L512.32,591.67 L513.07,592.32 L513.82,592.96 L514.57,593.61 L515.31,594.27 L516.05,594.92 L516.79,595.58 L517.52,596.24 L518.25,596.90 L518.98,597.56 L519.70,598.23 L520.43,598.89 L521.15,599.56 L521.87,600.24 L522.59,600.91 L523.30,601.58 L524.02,602.26 L524.73,602.94 L525.44,603.62 L526.15,604.30 L526.85,604.98 L527.56,605.67 L528.26,606.36 L528.97,607.04 L529.67,607.73 L530.37,608.42 L531.07,609.11 L531.77,609.80 L532.47,610.50 L533.17,611.19 L533.87,611.89 L534.57,612.58 L535.27,613.28 L535.97,613.98 L536.67,614.68 L537.37,615.37 L538.07,616.07 L538.77,616.77 L539.47,617.47 L540.17,618.18 L540.87,618.88 L541.57,619.58 L542.28,620.28 L542.98,620.98 L543.69,621.68 L544.39,622.39 L545.10,623.09 L545.81,623.79 L546.52,624.49 L547.23,625.19 L547.95,625.89 L548.67,626.60 L549.38,627.30 L550.11,628.00 L550.83,628.70 L551.55,629.40 L552.28,630.10 L553.01,630.79 L553.74,631.49 L554.48,632.19 L555.22,632.89 L555.96,633.58 L556.70,634.27 L557.45,634.97 L558.20,635.66 L558.95,636.35 L559.71,637.04 L560.47,637.73 L561.24,638.42 L562.01,639.10 L562.78,639.78 L563.55,640.46 L564.33,641.13 L565.11,641.80 L565.90,642.47 L566.69,643.13 L567.48,643.79 L568.27,644.45 L569.07,645.09 L569.88,645.74 L570.68,646.37 L571.49,647.00 L572.31,647.62 L573.13,648.24 L573.95,648.85 L574.77,649.45 L575.60,650.04 L576.43,650.63 L577.27,651.20 L578.11,651.77 L578.95,652.33 L579.80,652.88 L580.65,653.42 L581.51,653.94 L582.37,654.46 L583.23,654.97 L584.10,655.46 L584.97,655.94 L585.84,656.41 L586.72,656.87 L587.60,657.32 L588.49,657.75 L589.38,658.17 L590.28,658.58 L591.17,658.97 L592.08,659.35 L592.98,659.71 L593.89,660.06 L594.81,660.39 L595.73,660.71 L596.65,661.01 L597.58,661.29 L598.51,661.56 L599.44,661.81 L600.38,662.04 L601.33,662.26 L602.27,662.46 L603.23,662.64 L604.18,662.80 L605.14,662.94 L606.10,663.06 L607.07,663.17 L608.04,663.26 L609.01,663.33 L609.99,663.38 L610.97,663.42 L611.94,663.43 L612.92,663.43 L613.91,663.42 L614.89,663.38 L615.87,663.33 L616.86,663.27 L617.84,663.19 L618.82,663.09 L619.80,662.97 L620.79,662.84 L621.77,662.69 L622.75,662.53 L623.72,662.35 L624.70,662.16 L625.67,661.95 L626.64,661.73 L627.61,661.49 L628.57,661.24 L629.53,660.97 L630.49,660.69 L631.44,660.40 L632.39,660.09 L633.33,659.77 L634.27,659.43 L635.21,659.08 L636.13,658.72 L637.06,658.34 L637.97,657.95 L638.88,657.55 L639.79,657.14 L640.69,656.71 L641.58,656.28 L642.47,655.83 L643.35,655.37 L644.23,654.89 L645.10,654.41 L645.97,653.92 L646.83,653.41 L647.68,652.90 L648.54,652.38 L649.38,651.84 L650.23,651.30 L651.06,650.75 L651.90,650.19 L652.72,649.62 L653.55,649.05 L654.37,648.46 L655.18,647.87 L655.99,647.27 L656.80,646.66 L657.60,646.05 L658.40,645.43 L659.20,644.80 L659.99,644.16 L660.77,643.52 L661.56,642.88 L662.34,642.23 L663.11,641.57 L663.89,640.91 L664.66,640.24 L665.42,639.57 L666.18,638.90 L666.94,638.22 L667.70,637.54 L668.45,636.85 L669.20,636.16 L669.95,635.47 L670.70,634.78 L671.44,634.08 L672.18,633.38 L672.91,632.68 L673.65,631.98 L674.38,631.28 L675.11,630.57 L675.84,629.87 L676.56,629.16 L677.28,628.45 L678.00,627.75 L678.72,627.04 L679.44,626.33 L680.16,625.63 L680.87,624.92 L681.58,624.22 L682.29,623.51 L683.00,622.81 L683.71,622.10 L684.41,621.40 L685.12,620.70 L685.83,619.99 L686.53,619.29 L687.23,618.59 L687.93,617.89 L688.64,617.19 L689.34,616.49 L690.04,615.80 L690.74,615.10 L691.44,614.40 L692.14,613.70 L692.84,613.01 L693.54,612.32 L694.25,611.62 L694.95,610.93 L695.65,610.24 L696.35,609.55 L697.06,608.86 L697.76,608.17 L698.47,607.48 L699.18,606.79 L699.88,606.11 L700.59,605.42 L701.30,604.74 L702.02,604.06 L702.73,603.38 L703.44,602.70 L704.16,602.02 L704.88,601.34 L705.60,600.66 L706.33,599.99 L707.05,599.31 L707.78,598.64 L708.51,597.97 L709.24,597.30 L709.98,596.63 L710.72,595.97 L711.46,595.30 L712.20,594.64 L712.95,593.97 L713.70,593.31 L714.45,592.65 L715.21,592.00 L715.97,591.34 L716.73,590.68 L717.50,590.03 L718.27,589.38 L719.05,588.73 L719.82,588.09 L720.61,587.45 L721.39,586.81 L722.18,586.17 L722.98,585.54 L723.77,584.91 L724.57,584.29 L725.38,583.68 L726.19,583.06 L727.00,582.46 L727.82,581.86 L728.64,581.26 L729.46,580.68 L730.29,580.10 L731.12,579.52 L731.96,578.96 L732.79,578.40 L733.64,577.85 L734.49,577.31 L735.34,576.78 L736.19,576.25 L737.05,575.74 L737.91,575.24 L738.78,574.74 L739.65,574.26 L740.53,573.78 L741.41,573.32 L742.29,572.87 L743.18,572.43 L744.07,572.00 L744.97,571.59 L745.87,571.19 L746.77,570.80 L747.68,570.42 L748.59,570.06 L749.51,569.71 L750.43,569.37 L751.35,569.05 L752.28,568.74 L753.22,568.45 L754.15,568.18 L755.10,567.92 L756.04,567.67 L756.99,567.44 L757.95,567.23 L758.91,567.04 L759.87,566.86 L760.84,566.70 L761.81,566.56 L762.79,566.44 L763.77,566.33 L764.76,566.25 L765.75,566.18 L766.74,566.13 L767.74,566.11 L768.74,566.10 L769.75,566.11 L770.76,566.14 L771.78,566.20 L772.80,566.28 L773.83,566.37 L774.86,566.49 L775.89,566.63 L776.93,566.80 L777.98,566.99 L779.03,567.20 L780.08,567.43 L781.14,567.69" fill="none" stroke="#f00" stroke-width="2.85" stroke-dasharray="8.67 8.67"/>
<text transform="translate(569.01,875.90) scale(0.881,1)" font-size="19.0" font-family="'Liberation Serif', serif" fill="#111">(</text>
<text transform="translate(574.51,875.90) scale(1.327,1)" font-size="17.6" font-family="'Liberation Serif', serif" fill="#111">d</text>
<text transform="translate(586.71,875.90) scale(0.881,1)" font-size="19.0" font-family="'Liberation Serif', serif" fill="#111">)</text>
<text transform="translate(602.07,875.90) scale(1.099,1)" font-size="17.6" font-family="'Liberation Serif', serif" fill="#111" font-style="italic">r</text>
<rect x="617.85" y="869.00" width="11.80" height="0.95" fill="#111"/>
<rect x="617.85" y="872.75" width="11.80" height="0.95" fill="#111"/>
<text transform="translate(635.72,875.90) scale(1.141,1)" font-size="17.6" font-family="'Liberation Serif', serif" fill="#111">2</text>
</svg>
</body></html>
